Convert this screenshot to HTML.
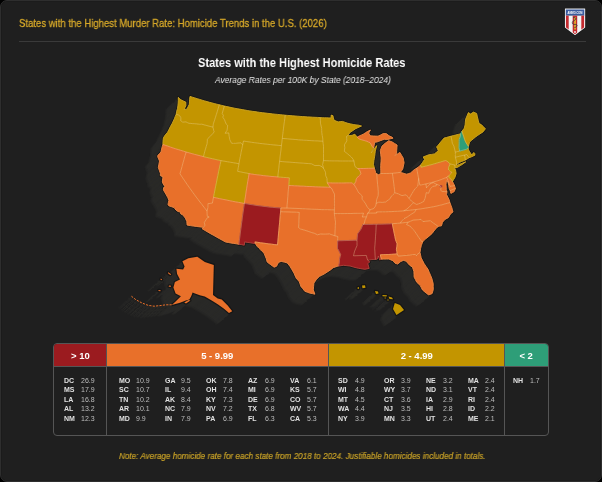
<!DOCTYPE html>
<html><head><meta charset="utf-8"><style>
html,body{margin:0;padding:0;background:#000;}
#c{position:relative;width:602px;height:482px;overflow:hidden;background:#000;font-family:"Liberation Sans",sans-serif;-webkit-font-smoothing:antialiased;}
.t,.cd,.vl,.hd{will-change:transform;}
#card{position:absolute;left:0;top:0;width:602px;height:482px;box-sizing:border-box;border-radius:7px;background:#1f1f1f;border:1.3px solid #2e2e2e;box-shadow:inset 0 0 0 0.6px #1a1a1a;}
.t{position:absolute;white-space:nowrap;transform-origin:0 0;}
#title{left:19.2px;top:16.7px;font-size:11.3px;color:#d6a829;transform:scaleX(0.845);-webkit-text-stroke:0.3px #d6a829;}
#rule{position:absolute;left:19px;top:40.5px;width:567px;height:1px;background:#3a3a3a;}
#h1{left:198px;top:55.3px;font-size:13.4px;font-weight:bold;color:#fff;transform:scaleX(0.825);}
#h2{left:215px;top:73.5px;font-size:9.6px;font-style:italic;color:#e6e6e6;transform:scaleX(0.88);}
#note{left:119px;top:450.5px;font-size:8.9px;font-style:italic;color:#c9a227;transform:scaleX(0.915);-webkit-text-stroke:0.2px #c9a227;}
svg{position:absolute;left:0;top:0;}
#tbl{position:absolute;left:53px;top:342.5px;width:493.5px;height:91.5px;border:1px solid #555;border-radius:4px;overflow:hidden;}
.hd{position:absolute;top:0;height:22px;border-bottom:1px solid #555;color:#fff;font-weight:bold;font-size:9.5px;text-align:center;line-height:24px;overflow:hidden;}
.dv{position:absolute;top:0;width:1px;height:100%;background:#555;}
.cd{position:absolute;font-size:7px;font-weight:bold;color:#e0e0e0;white-space:nowrap;}
.vl{position:absolute;font-size:7px;color:#bdbdbd;white-space:nowrap;}
</style></head><body><div id="c">
<div id="card"></div>
<div class="t" id="title">States with the Highest Murder Rate: Homicide Trends in the U.S. (2026)</div>
<div id="rule"></div>
<svg width="602" height="482" viewBox="0 0 602 482" style="position:absolute;left:0;top:0">
<defs><clipPath id="sh"><path d="M565.8,9.4 H584.3 V27.2 L575,34.3 L565.8,27.2 Z"/></clipPath></defs>
<path d="M564.4,8.0 H585.7 V27.7 L575,35.9 L564.4,27.7 Z" fill="#111"/>
<path d="M564.9,8.5 H585.2 V27.4 L575,35.3 L564.9,27.4 Z" fill="#f4f4f4"/>
<g clip-path="url(#sh)">
<rect x="565" y="9" width="20" height="6.2" fill="#3b5b9e"/>
<rect x="565" y="15.2" width="20" height="0.5" fill="#2a3f70"/>
<rect x="565.8" y="15.7" width="2.9" height="20" fill="#c42a2f"/>
<rect x="581.3" y="15.7" width="3" height="20" fill="#c42a2f"/>
<rect x="572.7" y="15.7" width="4.5" height="20" fill="#c42a2f"/>
</g>
<circle cx="575" cy="32" r="0.9" fill="#f4f4f4"/>
<rect x="574.2" y="17" width="1.7" height="12.5" fill="#e2b22a"/>
<path d="M573.2,17.6 c2.8,-0.6 3.6,1.6 1.2,2.8 c-3.2,1.4 -2.6,4.6 0.8,4 c2.6,-0.4 2.6,2.6 -0.8,3.2" stroke="#3a3a3a" stroke-width="0.85" fill="none"/>
<text x="575" y="13.6" font-size="3.3" font-weight="bold" fill="#fff" text-anchor="middle" font-family="Liberation Sans" textLength="15" lengthAdjust="spacingAndGlyphs">AMMO.COM</text>
</svg>
<div class="t" id="h1">States with the Highest Homicide Rates</div>
<div class="t" id="h2">Average Rates per 100K by State (2018–2024)</div>
<svg width="602" height="482" viewBox="0 0 602 482">
<defs><filter id="ls" filterUnits="userSpaceOnUse" x="100" y="80" width="420" height="260" color-interpolation-filters="sRGB"><feFlood flood-color="#222221" result="f16"/><feComposite in="f16" in2="SourceAlpha" operator="in" result="c16"/><feOffset in="c16" dx="-13.50" dy="12.00" result="o16"/><feFlood flood-color="#242423" result="f15"/><feComposite in="f15" in2="SourceAlpha" operator="in" result="c15"/><feOffset in="c15" dx="-12.66" dy="11.25" result="o15"/><feFlood flood-color="#262625" result="f14"/><feComposite in="f14" in2="SourceAlpha" operator="in" result="c14"/><feOffset in="c14" dx="-11.81" dy="10.50" result="o14"/><feFlood flood-color="#292927" result="f13"/><feComposite in="f13" in2="SourceAlpha" operator="in" result="c13"/><feOffset in="c13" dx="-10.97" dy="9.75" result="o13"/><feFlood flood-color="#292927" result="f12"/><feComposite in="f12" in2="SourceAlpha" operator="in" result="c12"/><feOffset in="c12" dx="-10.12" dy="9.00" result="o12"/><feFlood flood-color="#292927" result="f11"/><feComposite in="f11" in2="SourceAlpha" operator="in" result="c11"/><feOffset in="c11" dx="-9.28" dy="8.25" result="o11"/><feFlood flood-color="#292927" result="f10"/><feComposite in="f10" in2="SourceAlpha" operator="in" result="c10"/><feOffset in="c10" dx="-8.44" dy="7.50" result="o10"/><feFlood flood-color="#292927" result="f9"/><feComposite in="f9" in2="SourceAlpha" operator="in" result="c9"/><feOffset in="c9" dx="-7.59" dy="6.75" result="o9"/><feFlood flood-color="#292927" result="f8"/><feComposite in="f8" in2="SourceAlpha" operator="in" result="c8"/><feOffset in="c8" dx="-6.75" dy="6.00" result="o8"/><feFlood flood-color="#292927" result="f7"/><feComposite in="f7" in2="SourceAlpha" operator="in" result="c7"/><feOffset in="c7" dx="-5.91" dy="5.25" result="o7"/><feFlood flood-color="#292927" result="f6"/><feComposite in="f6" in2="SourceAlpha" operator="in" result="c6"/><feOffset in="c6" dx="-5.06" dy="4.50" result="o6"/><feFlood flood-color="#292927" result="f5"/><feComposite in="f5" in2="SourceAlpha" operator="in" result="c5"/><feOffset in="c5" dx="-4.22" dy="3.75" result="o5"/><feFlood flood-color="#292927" result="f4"/><feComposite in="f4" in2="SourceAlpha" operator="in" result="c4"/><feOffset in="c4" dx="-3.38" dy="3.00" result="o4"/><feFlood flood-color="#292927" result="f3"/><feComposite in="f3" in2="SourceAlpha" operator="in" result="c3"/><feOffset in="c3" dx="-2.53" dy="2.25" result="o3"/><feFlood flood-color="#292927" result="f2"/><feComposite in="f2" in2="SourceAlpha" operator="in" result="c2"/><feOffset in="c2" dx="-1.69" dy="1.50" result="o2"/><feFlood flood-color="#292927" result="f1"/><feComposite in="f1" in2="SourceAlpha" operator="in" result="c1"/><feOffset in="c1" dx="-0.84" dy="0.75" result="o1"/><feMerge><feMergeNode in="o16"/><feMergeNode in="o15"/><feMergeNode in="o14"/><feMergeNode in="o13"/><feMergeNode in="o12"/><feMergeNode in="o11"/><feMergeNode in="o10"/><feMergeNode in="o9"/><feMergeNode in="o8"/><feMergeNode in="o7"/><feMergeNode in="o6"/><feMergeNode in="o5"/><feMergeNode in="o4"/><feMergeNode in="o3"/><feMergeNode in="o2"/><feMergeNode in="o1"/></feMerge></filter></defs>
<g filter="url(#ls)" fill="#000"><path d="M176.2,114.2 176.6,111.5 177.5,108.5 177.9,105.7 178.2,103.0 178.3,100.2 178.3,97.4 179.6,98.6 180.9,99.8 183.4,101.0 185.8,102.1 185.9,105.6 185.0,107.5 184.1,109.5 186.9,109.2 188.1,106.7 189.3,104.3 189.5,101.9 189.6,99.5 190.0,96.4 192.4,97.2 194.8,97.9 197.2,98.7 199.7,99.4 202.1,100.2 204.6,100.9 207.0,101.6 209.5,102.3 211.9,102.9 214.4,103.6 216.8,104.2 219.3,104.8 218.3,108.0 217.4,111.2 216.4,114.3 215.4,117.5 214.4,120.7 213.3,123.9 213.0,127.1 210.8,126.6 208.5,126.0 206.3,125.4 204.0,124.8 201.8,124.2 199.9,124.3 198.2,124.1 196.5,123.9 194.4,123.7 192.4,123.6 190.7,123.4 189.0,123.3 187.4,122.6 185.9,121.9 182.8,122.2 180.7,120.7 180.9,117.9 180.3,116.4 178.5,115.0 176.2,114.2Z"/><path d="M162.9,144.5 163.0,141.2 163.4,137.8 165.4,134.7 167.6,132.2 169.0,129.4 170.4,126.6 172.3,123.2 173.3,121.0 174.3,118.9 175.2,116.5 176.2,114.2 178.5,115.0 180.3,116.4 180.9,117.9 180.7,120.7 182.8,122.2 185.9,121.9 187.4,122.6 189.0,123.3 190.7,123.4 192.4,123.6 194.4,123.7 196.5,123.9 198.2,124.1 199.9,124.3 201.8,124.2 204.0,124.8 206.3,125.4 208.5,126.0 210.8,126.6 213.0,127.1 213.7,130.5 214.2,131.8 211.9,134.8 209.5,136.7 207.4,139.4 207.2,143.3 206.2,146.6 205.2,150.0 204.3,153.3 203.4,156.6 200.5,155.9 197.6,155.1 194.7,154.4 191.8,153.6 189.0,152.8 186.2,152.0 183.5,151.2 180.9,150.4 178.3,149.6 175.7,148.8 173.1,148.0 170.6,147.1 168.0,146.2 165.5,145.4 162.9,144.5Z"/><path d="M187.1,225.1 186.8,221.5 185.3,218.1 182.7,214.8 180.8,214.0 180.4,212.1 178.0,211.5 175.9,210.0 174.1,207.6 171.5,206.7 168.8,205.8 168.0,204.4 168.4,202.4 168.9,200.4 167.9,197.8 166.1,194.6 164.7,192.2 163.4,189.9 163.6,187.6 165.0,186.5 163.7,184.9 162.3,182.1 162.7,178.4 163.0,176.9 160.3,175.6 160.4,173.3 159.3,170.4 158.3,167.4 158.9,164.2 159.5,161.0 157.7,156.8 157.9,155.3 159.5,153.6 161.0,151.9 161.6,149.1 162.3,146.3 162.9,144.5 165.5,145.4 168.0,146.2 170.6,147.1 173.1,148.0 175.7,148.8 178.3,149.6 180.9,150.4 183.5,151.2 186.2,152.0 185.0,155.6 184.0,159.3 183.0,162.9 182.0,166.6 181.0,170.2 180.0,173.8 182.3,177.3 184.6,180.7 186.9,184.1 189.3,187.5 191.7,190.9 194.2,194.3 196.7,197.7 199.2,201.0 201.8,204.4 204.4,207.7 207.0,211.0 207.1,213.7 207.3,216.3 209.2,217.0 207.2,217.8 205.8,220.1 204.3,222.5 205.0,225.6 203.2,227.3 200.0,226.9 196.8,226.5 193.5,226.1 190.3,225.6 187.1,225.1Z"/><path d="M186.2,152.0 189.0,152.8 191.8,153.6 194.7,154.4 197.6,155.1 200.5,155.9 203.4,156.6 206.3,157.3 209.2,158.0 212.2,158.7 215.1,159.3 218.1,160.0 221.0,160.6 220.2,164.3 219.4,167.9 218.6,171.6 217.9,175.3 217.1,179.0 216.4,182.7 215.6,186.4 214.9,190.0 214.2,193.7 213.5,197.3 212.9,200.2 212.4,203.1 210.1,203.4 207.9,203.7 207.9,207.5 207.0,211.0 204.4,207.7 201.8,204.4 199.2,201.0 196.7,197.7 194.2,194.3 191.7,190.9 189.3,187.5 186.9,184.1 184.6,180.7 182.3,177.3 180.0,173.8 181.0,170.2 182.0,166.6 183.0,162.9 184.0,159.3 185.0,155.6 186.2,152.0Z"/><path d="M219.3,104.8 218.3,108.0 217.4,111.2 216.4,114.3 215.4,117.5 214.4,120.7 213.3,123.9 213.0,127.1 213.7,130.5 214.2,131.8 211.9,134.8 209.5,136.7 207.4,139.4 207.2,143.3 206.2,146.6 205.2,150.0 204.3,153.3 203.4,156.6 206.3,157.3 209.2,158.0 212.2,158.7 215.1,159.3 218.1,160.0 221.0,160.6 224.0,161.1 227.1,161.7 230.1,162.2 233.1,162.7 236.0,163.2 239.0,163.8 239.6,160.0 240.4,156.2 241.1,152.4 241.9,148.6 242.7,144.8 241.1,142.8 238.4,143.0 235.8,143.3 233.7,143.3 231.6,143.3 229.8,139.7 229.2,136.3 228.7,132.9 226.9,133.1 225.1,133.3 227.1,130.2 227.4,127.8 227.7,125.4 226.2,124.1 224.5,119.8 222.8,117.1 223.4,115.6 222.2,113.4 223.3,109.7 224.3,106.0 221.8,105.4 219.3,104.8Z"/><path d="M224.3,106.0 226.9,106.6 229.4,107.1 232.0,107.7 234.5,108.2 237.1,108.7 239.6,109.1 242.2,109.6 244.7,110.0 247.3,110.5 249.8,110.9 252.3,111.3 254.9,111.6 257.4,112.0 259.9,112.4 262.5,112.7 265.0,113.0 267.5,113.3 270.0,113.6 272.6,113.9 275.1,114.2 277.6,114.4 280.1,114.7 282.7,114.9 285.2,115.2 284.8,118.5 284.4,121.7 283.9,125.0 283.5,128.4 283.1,131.7 282.7,135.0 282.3,138.4 281.9,142.0 281.4,145.6 278.7,145.4 276.0,145.1 273.3,144.9 270.6,144.6 267.9,144.3 265.2,144.0 262.5,143.7 259.8,143.4 257.1,143.0 254.4,142.7 251.7,142.3 249.0,141.9 246.3,141.5 243.5,141.0 242.7,144.8 241.1,142.8 238.4,143.0 235.8,143.3 233.7,143.3 231.6,143.3 229.8,139.7 229.2,136.3 228.7,132.9 226.9,133.1 225.1,133.3 227.1,130.2 227.4,127.8 227.7,125.4 226.2,124.1 224.5,119.8 222.8,117.1 223.4,115.6 222.2,113.4 223.3,109.7 224.3,106.0Z"/><path d="M242.7,144.8 243.5,141.0 246.3,141.5 249.0,141.9 251.7,142.3 254.4,142.7 257.1,143.0 259.8,143.4 262.5,143.7 265.2,144.0 267.9,144.3 270.6,144.6 273.3,144.9 276.0,145.1 278.7,145.4 281.4,145.6 281.0,149.5 280.5,153.5 280.0,157.4 279.6,161.3 279.1,165.3 278.7,169.2 278.2,173.1 277.8,177.0 274.9,176.7 272.0,176.5 269.1,176.2 266.2,175.9 263.4,175.6 260.5,175.2 257.6,174.9 254.8,174.5 251.9,174.1 249.1,173.6 246.2,173.0 243.4,172.5 240.5,171.9 237.6,171.3 238.3,167.5 239.0,163.8 239.6,160.0 240.4,156.2 241.1,152.4 241.9,148.6 242.7,144.8Z"/><path d="M221.0,160.6 224.0,161.1 227.1,161.7 230.1,162.2 233.1,162.7 236.0,163.2 239.0,163.8 238.3,167.5 237.6,171.3 240.5,171.9 243.4,172.5 246.2,173.0 249.1,173.6 248.5,177.4 247.8,181.1 247.2,184.9 246.6,188.6 246.0,192.4 245.5,196.1 244.9,199.8 244.4,203.5 241.3,202.9 238.3,202.3 235.2,201.8 232.2,201.2 229.1,200.6 226.0,199.9 222.9,199.3 219.7,198.7 216.6,198.0 213.5,197.3 214.2,193.7 214.9,190.0 215.6,186.4 216.4,182.7 217.1,179.0 217.9,175.3 218.6,171.6 219.4,167.9 220.2,164.3 221.0,160.6Z"/><path d="M249.1,173.6 251.9,174.1 254.8,174.5 257.6,174.9 260.5,175.2 263.4,175.6 266.2,175.9 269.1,176.2 272.0,176.5 274.9,176.7 277.8,177.0 280.7,177.2 283.6,177.4 286.5,177.6 289.4,177.8 289.1,181.6 288.8,185.5 288.4,189.3 288.1,193.0 287.8,196.8 287.5,200.6 287.2,204.3 286.9,208.1 283.9,208.0 280.9,208.0 278.0,207.8 275.1,207.6 272.3,207.3 269.5,207.1 266.7,206.7 263.9,206.4 261.1,206.0 258.3,205.7 255.5,205.3 252.7,204.8 250.0,204.4 247.2,203.9 244.4,203.5 244.9,199.8 245.5,196.1 246.0,192.4 246.6,188.6 247.2,184.9 247.8,181.1 248.5,177.4 249.1,173.6Z"/><path d="M213.5,197.3 216.6,198.0 219.7,198.7 222.9,199.3 226.0,199.9 229.1,200.6 232.2,201.2 235.2,201.8 238.3,202.3 241.3,202.9 244.4,203.5 243.9,206.9 243.4,210.3 242.9,213.7 242.4,217.1 242.0,220.5 241.5,223.9 241.1,227.3 240.6,230.7 240.2,234.1 239.8,237.5 239.3,240.9 238.9,244.3 236.2,243.8 233.6,243.4 230.9,243.0 228.3,242.5 225.6,242.0 222.6,240.4 219.7,238.8 216.8,237.2 213.9,235.5 210.9,233.9 208.0,232.2 205.1,230.5 202.2,228.8 203.2,227.3 205.0,225.6 204.3,222.5 205.8,220.1 207.2,217.8 209.2,217.0 207.3,216.3 207.1,213.7 207.0,211.0 207.9,207.5 207.9,203.7 210.1,203.4 212.4,203.1 212.9,200.2 213.5,197.3Z"/><path d="M244.4,203.5 247.2,203.9 250.0,204.4 252.7,204.8 255.5,205.3 258.3,205.7 261.1,206.0 263.9,206.4 266.7,206.7 269.5,207.1 272.3,207.3 275.1,207.6 278.0,207.8 280.9,208.0 280.6,211.7 280.2,215.4 279.9,219.1 279.6,222.8 279.2,226.5 278.9,230.2 278.5,233.9 278.2,237.6 277.9,241.2 277.5,244.9 274.6,244.6 271.8,244.2 268.9,243.9 266.1,243.5 263.3,243.1 260.5,242.8 257.7,242.3 254.9,241.9 255.4,243.6 252.8,243.2 250.1,242.8 247.4,242.4 244.7,241.9 244.3,245.2 241.6,244.7 238.9,244.3 239.3,240.9 239.8,237.5 240.2,234.1 240.6,230.7 241.1,227.3 241.5,223.9 242.0,220.5 242.4,217.1 242.9,213.7 243.4,210.3 243.9,206.9 244.4,203.5Z"/><path d="M285.2,115.2 287.7,115.4 290.1,115.6 292.6,115.8 295.1,116.0 297.6,116.2 300.1,116.4 302.6,116.6 305.1,116.7 307.6,116.9 310.1,117.0 312.6,117.2 315.1,117.3 317.6,117.4 320.2,117.6 320.4,120.6 320.5,123.7 321.1,126.0 321.7,128.3 321.7,130.6 321.8,132.9 322.2,135.4 322.7,138.0 322.9,141.2 320.1,141.1 317.4,140.9 314.6,140.8 311.9,140.7 309.2,140.5 306.5,140.3 303.8,140.2 301.1,140.0 298.4,139.8 295.7,139.5 293.0,139.3 290.3,139.1 287.6,138.8 285.0,138.6 282.3,138.4 282.7,135.0 283.1,131.7 283.5,128.4 283.9,125.0 284.4,121.7 284.8,118.5 285.2,115.2Z"/><path d="M282.3,138.4 281.9,142.0 281.4,145.6 281.0,149.5 280.5,153.5 280.0,157.4 279.6,161.3 282.2,161.6 284.8,161.8 287.4,162.0 290.0,162.2 292.7,162.4 295.3,162.6 298.0,162.8 300.7,163.0 303.4,163.2 306.0,163.4 308.7,163.6 311.5,163.8 313.2,164.7 314.9,165.6 317.0,165.5 319.1,165.4 322.0,166.7 323.5,168.4 323.0,166.4 322.6,164.5 323.5,160.6 323.5,157.1 323.5,153.5 323.5,149.9 323.5,146.3 323.2,143.7 322.9,141.2 320.1,141.1 317.4,140.9 314.6,140.8 311.9,140.7 309.2,140.5 306.5,140.3 303.8,140.2 301.1,140.0 298.4,139.8 295.7,139.5 293.0,139.3 290.3,139.1 287.6,138.8 285.0,138.6 282.3,138.4Z"/><path d="M277.8,177.0 278.2,173.1 278.7,169.2 279.1,165.3 279.6,161.3 282.2,161.6 284.8,161.8 287.4,162.0 290.0,162.2 292.7,162.4 295.3,162.6 298.0,162.8 300.7,163.0 303.4,163.2 306.0,163.4 308.7,163.6 311.5,163.8 313.2,164.7 314.9,165.6 317.0,165.5 319.1,165.4 322.0,166.7 323.5,168.4 324.0,169.1 325.5,172.2 325.7,175.6 326.9,178.2 327.1,180.6 327.3,182.9 328.7,185.1 330.2,187.3 327.2,187.2 324.2,187.1 321.2,187.0 318.2,186.9 315.2,186.8 312.2,186.6 309.3,186.5 306.3,186.4 303.4,186.2 300.4,186.1 297.5,185.9 294.6,185.8 291.7,185.6 288.8,185.5 289.1,181.6 289.4,177.8 286.5,177.6 283.6,177.4 280.7,177.2 277.8,177.0Z"/><path d="M288.8,185.5 291.7,185.6 294.6,185.8 297.5,185.9 300.4,186.1 303.4,186.2 306.3,186.4 309.3,186.5 312.2,186.6 315.2,186.8 318.2,186.9 321.2,187.0 324.2,187.1 327.2,187.2 330.2,187.3 332.0,188.8 332.7,190.7 334.5,194.1 334.5,197.2 334.4,200.3 334.4,203.5 334.4,206.6 334.4,209.8 331.1,209.8 327.9,209.7 324.6,209.7 321.4,209.6 318.1,209.4 314.9,209.3 311.7,209.2 308.5,209.0 305.3,208.8 302.2,208.7 299.1,208.5 296.0,208.4 293.0,208.3 290.0,208.2 286.9,208.1 287.2,204.3 287.5,200.6 287.8,196.8 288.1,193.0 288.4,189.3 288.8,185.5Z"/><path d="M286.9,208.1 290.0,208.2 293.0,208.3 296.0,208.4 299.1,208.5 302.2,208.7 305.3,208.8 308.5,209.0 311.7,209.2 314.9,209.3 318.1,209.4 321.4,209.6 324.6,209.7 327.9,209.7 331.1,209.8 334.4,209.8 334.3,213.6 334.7,216.4 335.1,219.3 335.5,222.1 335.3,225.5 335.2,228.9 335.0,232.4 334.8,235.8 332.1,234.9 329.4,233.9 327.4,234.0 325.4,234.1 323.0,234.1 320.7,234.0 317.4,234.8 314.7,233.4 311.5,232.5 308.2,231.3 306.0,230.6 303.7,229.9 300.5,229.0 298.6,227.6 298.8,223.8 298.9,220.0 299.1,216.1 299.3,212.4 296.2,212.2 293.1,212.1 290.0,212.0 286.9,211.9 283.7,211.8 280.6,211.7 280.9,208.0 283.9,208.0 286.9,208.1Z"/><path d="M280.6,211.7 280.2,215.4 279.9,219.1 279.6,222.8 279.2,226.5 278.9,230.2 278.5,233.9 278.2,237.6 277.9,241.2 277.5,244.9 274.6,244.6 271.8,244.2 268.9,243.9 266.1,243.5 263.3,243.1 260.5,242.8 257.7,242.3 254.9,241.9 255.4,243.6 257.1,246.3 258.8,248.1 260.6,249.8 262.3,251.6 264.1,253.3 265.1,255.9 266.2,258.5 267.2,262.1 270.3,264.4 272.2,265.8 274.1,267.2 276.5,266.3 277.5,264.4 278.5,262.4 281.2,261.4 284.2,262.1 287.2,262.9 290.0,266.4 292.0,269.8 294.0,273.2 295.2,276.0 296.5,278.8 299.1,281.3 300.0,283.8 300.9,286.4 302.9,288.8 304.8,291.3 307.3,292.2 309.7,293.1 312.3,293.6 314.9,294.2 314.1,292.0 313.3,289.9 313.6,286.5 313.9,283.1 316.4,279.4 319.3,276.5 321.7,275.3 324.2,274.0 327.3,272.0 330.5,269.9 333.2,267.7 335.3,267.0 337.4,266.3 338.5,266.1 339.3,263.1 339.5,259.2 340.1,256.9 340.7,254.6 339.4,251.9 338.1,249.3 337.5,248.5 337.6,244.6 337.7,240.8 337.7,238.6 337.8,236.5 334.8,235.8 332.1,234.9 329.4,233.9 327.4,234.0 325.4,234.1 323.0,234.1 320.7,234.0 317.4,234.8 314.7,233.4 311.5,232.5 308.2,231.3 306.0,230.6 303.7,229.9 300.5,229.0 298.6,227.6 298.8,223.8 298.9,220.0 299.1,216.1 299.3,212.4 296.2,212.2 293.1,212.1 290.0,212.0 286.9,211.9 283.7,211.8 280.6,211.7Z"/><path d="M320.2,117.6 322.3,117.7 324.5,117.8 326.7,117.8 328.9,117.9 331.1,118.0 331.2,115.1 332.9,115.6 333.4,117.9 334.0,120.2 336.1,121.1 338.2,121.9 340.3,121.6 342.5,121.4 345.2,122.4 347.9,123.3 350.6,123.9 353.3,124.5 356.0,124.9 358.7,125.2 361.5,126.0 359.5,126.9 357.6,127.8 355.6,128.7 353.0,130.5 350.3,132.2 347.7,135.7 346.6,136.4 346.7,138.6 346.8,140.9 345.6,142.9 344.4,144.8 344.8,147.7 344.3,151.3 347.3,153.6 349.4,155.4 351.5,157.1 353.7,160.2 353.9,160.9 351.2,161.0 348.4,161.0 345.6,161.0 342.9,161.0 340.1,161.0 337.3,160.9 334.6,160.9 331.8,160.9 329.1,160.8 326.3,160.7 323.5,160.6 323.5,157.1 323.5,153.5 323.5,149.9 323.5,146.3 323.2,143.7 322.9,141.2 322.7,138.0 322.2,135.4 321.8,132.9 321.7,130.6 321.7,128.3 321.1,126.0 320.5,123.7 320.4,120.6 320.2,117.6Z"/><path d="M323.5,160.6 326.3,160.7 329.1,160.8 331.8,160.9 334.6,160.9 337.3,160.9 340.1,161.0 342.9,161.0 345.6,161.0 348.4,161.0 351.2,161.0 353.9,160.9 354.4,163.8 355.0,166.7 357.8,168.6 359.9,170.4 361.0,173.8 358.5,176.1 356.3,178.8 355.8,181.4 354.1,184.6 352.1,182.9 349.4,182.9 346.6,182.9 343.9,183.0 341.1,183.0 338.4,183.0 335.6,183.0 332.8,183.0 330.1,182.9 327.3,182.9 327.1,180.6 326.9,178.2 325.7,175.6 325.5,172.2 324.0,169.1 323.5,168.4 323.0,166.4 322.6,164.5 323.5,160.6Z"/><path d="M327.3,182.9 328.7,185.1 330.2,187.3 332.0,188.8 332.7,190.7 334.5,194.1 334.5,197.2 334.4,200.3 334.4,203.5 334.4,206.6 334.4,209.8 334.3,213.6 337.6,213.6 340.9,213.6 344.2,213.6 347.4,213.5 350.7,213.5 353.9,213.4 357.2,213.3 360.4,213.3 363.5,213.2 362.3,217.0 364.4,216.9 366.5,216.9 367.6,213.2 368.8,212.4 370.0,209.8 367.3,207.2 365.5,203.6 363.8,201.4 362.1,199.2 362.2,195.9 360.4,194.2 358.6,192.6 357.4,190.4 356.2,188.1 354.1,184.6 352.1,182.9 349.4,182.9 346.6,182.9 343.9,183.0 341.1,183.0 338.4,183.0 335.6,183.0 332.8,183.0 330.1,182.9 327.3,182.9Z"/><path d="M334.3,213.6 337.6,213.6 340.9,213.6 344.2,213.6 347.4,213.5 350.7,213.5 353.9,213.4 357.2,213.3 360.4,213.3 363.5,213.2 362.3,217.0 364.4,216.9 366.5,216.9 365.1,219.9 364.2,223.7 362.9,224.5 362.0,226.8 361.0,229.1 359.3,231.5 357.6,233.9 357.3,237.1 357.0,240.2 353.8,240.3 350.6,240.4 347.4,240.5 344.1,240.6 340.9,240.7 337.7,240.8 337.7,238.6 337.8,236.5 334.8,235.8 335.0,232.4 335.2,228.9 335.3,225.5 335.5,222.1 335.1,219.3 334.7,216.4 334.3,213.6Z"/><path d="M337.7,240.8 340.9,240.7 344.1,240.6 347.4,240.5 350.6,240.4 353.8,240.3 357.0,240.2 357.0,242.9 357.0,245.6 355.8,248.4 354.6,251.2 354.0,253.5 353.5,255.8 356.7,255.7 359.9,255.6 363.1,255.5 366.3,255.4 367.1,258.4 367.8,260.3 369.8,261.8 367.8,263.8 368.5,266.1 369.2,268.4 367.0,268.9 364.8,269.3 362.8,269.0 360.8,268.7 358.7,268.3 356.7,267.9 353.3,267.0 350.0,266.0 346.7,265.7 343.5,265.3 341.0,265.7 338.5,266.1 339.3,263.1 339.5,259.2 340.1,256.9 340.7,254.6 339.4,251.9 338.1,249.3 337.5,248.5 337.6,244.6 337.7,240.8Z"/><path d="M347.7,135.7 349.9,135.5 352.1,135.3 354.8,134.2 357.2,137.1 358.9,138.9 361.8,139.8 364.6,140.6 366.9,141.3 368.6,142.1 370.3,142.8 372.0,146.2 373.6,148.1 372.4,150.5 371.2,152.9 372.9,150.7 374.5,148.5 376.7,145.6 376.0,148.4 375.3,151.1 375.0,153.7 374.7,156.2 374.3,158.4 373.9,160.5 373.5,164.4 374.4,168.2 371.6,168.3 368.9,168.3 366.1,168.4 363.3,168.5 360.6,168.5 357.8,168.6 355.0,166.7 354.4,163.8 353.9,160.9 353.7,160.2 351.5,157.1 349.4,155.4 347.3,153.6 344.3,151.3 344.8,147.7 344.4,144.8 345.6,142.9 346.8,140.9 346.7,138.6 346.6,136.4 347.7,135.7Z"/><path d="M357.8,168.6 360.6,168.5 363.3,168.5 366.1,168.4 368.9,168.3 371.6,168.3 374.4,168.2 375.1,170.4 375.7,172.7 376.6,173.7 377.0,177.4 377.3,181.0 377.6,184.6 378.0,188.2 378.3,191.8 378.2,195.5 377.4,197.6 376.7,199.7 376.2,203.4 375.6,206.0 373.6,208.6 371.8,209.2 370.0,209.8 367.3,207.2 365.5,203.6 363.8,201.4 362.1,199.2 362.2,195.9 360.4,194.2 358.6,192.6 357.4,190.4 356.2,188.1 354.1,184.6 355.8,181.4 356.3,178.8 358.5,176.1 361.0,173.8 359.9,170.4 357.8,168.6Z"/><path d="M376.6,173.7 378.6,174.7 380.8,173.5 383.7,173.5 386.6,173.5 389.5,173.4 392.4,173.3 392.8,176.6 393.3,179.9 393.7,183.1 394.1,186.4 394.5,189.6 394.8,192.8 393.2,194.4 391.6,196.0 389.5,199.3 388.3,200.0 385.5,202.0 382.4,202.4 380.6,202.3 378.7,202.2 376.2,203.4 376.7,199.7 377.4,197.6 378.2,195.5 378.3,191.8 378.0,188.2 377.6,184.6 377.3,181.0 377.0,177.4 376.6,173.7Z"/><path d="M392.4,173.3 395.1,173.0 397.7,172.7 400.3,172.4 403.0,173.1 404.9,173.7 406.7,174.2 408.7,173.6 410.6,172.9 412.4,171.3 414.2,169.7 416.7,168.2 417.3,171.6 417.9,174.9 418.6,178.3 418.4,180.4 418.2,182.5 417.8,186.0 416.4,187.4 415.0,188.8 413.1,191.7 411.1,195.0 409.1,198.5 407.6,196.7 406.2,194.8 404.1,195.2 402.0,195.6 400.0,194.7 398.1,193.7 396.5,193.3 394.8,192.8 394.5,189.6 394.1,186.4 393.7,183.1 393.3,179.9 392.8,176.6 392.4,173.3Z"/><path d="M380.8,173.5 380.8,170.9 380.7,168.2 380.7,165.5 381.0,161.8 381.2,158.0 380.7,154.3 380.3,150.6 381.2,148.2 382.1,145.9 383.7,144.5 385.4,143.1 387.1,141.9 388.7,140.7 390.3,141.3 391.9,141.8 394.5,143.4 397.1,145.0 396.9,147.8 396.7,150.6 396.6,153.4 394.8,155.7 397.3,154.1 399.9,152.4 401.5,155.2 403.2,158.0 403.6,160.3 404.1,162.7 403.4,166.0 402.7,169.3 400.3,172.4 397.7,172.7 395.1,173.0 392.4,173.3 389.5,173.4 386.6,173.5 383.7,173.5 380.8,173.5Z"/><path d="M357.2,137.1 359.8,135.7 361.7,134.9 363.6,134.0 365.4,132.8 367.3,131.6 368.8,130.8 370.4,130.0 368.7,133.1 370.3,135.8 372.0,135.9 373.6,136.0 375.8,136.1 378.0,136.2 380.7,134.9 383.3,133.5 384.9,133.6 386.5,133.7 389.0,135.8 391.9,137.1 393.1,138.2 390.4,138.8 387.7,139.4 386.1,139.4 384.4,139.3 382.3,140.0 380.1,140.8 378.3,141.5 376.5,142.1 374.7,142.2 374.2,145.2 373.6,148.1 372.0,146.2 370.3,142.8 368.6,142.1 366.9,141.3 364.6,140.6 361.8,139.8 358.9,138.9 357.2,137.1Z"/><path d="M376.2,203.4 378.7,202.2 380.6,202.3 382.4,202.4 385.5,202.0 388.3,200.0 389.5,199.3 391.6,196.0 393.2,194.4 394.8,192.8 396.5,193.3 398.1,193.7 400.0,194.7 402.0,195.6 404.1,195.2 406.2,194.8 407.6,196.7 409.1,198.5 411.3,201.0 413.5,202.7 411.7,204.7 410.0,206.1 407.1,209.0 405.4,209.9 403.7,210.8 400.7,211.1 397.6,211.3 394.6,211.4 391.6,211.6 388.6,211.7 385.6,211.8 382.6,211.8 379.6,211.9 376.6,211.9 376.7,213.0 373.7,213.1 370.7,213.1 367.6,213.2 368.8,212.4 370.0,209.8 371.8,209.2 373.6,208.6 375.6,206.0 376.2,203.4Z"/><path d="M367.6,213.2 370.7,213.1 373.7,213.1 376.7,213.0 376.6,211.9 379.6,211.9 382.6,211.8 385.6,211.8 388.6,211.7 391.6,211.6 394.6,211.4 397.6,211.3 400.7,211.1 403.7,210.8 406.8,210.5 409.9,210.2 413.0,209.8 416.1,209.5 415.0,211.8 412.9,213.2 410.8,214.5 407.7,216.7 405.9,217.7 404.0,218.6 401.6,221.1 400.3,223.1 397.6,223.3 395.0,223.5 392.3,223.7 389.6,223.9 386.9,224.0 384.2,224.1 381.5,224.2 378.9,224.2 376.2,224.3 373.6,224.3 370.9,224.4 368.3,224.4 365.6,224.4 362.9,224.5 364.2,223.7 365.1,219.9 366.5,216.9 367.6,213.2Z"/><path d="M362.9,224.5 365.6,224.4 368.3,224.4 370.9,224.4 373.6,224.3 376.2,224.3 376.2,225.0 376.0,228.9 375.8,232.7 375.5,236.5 375.3,240.4 375.0,244.3 374.7,248.1 374.9,251.9 375.1,255.7 375.4,259.4 373.2,259.5 371.1,259.6 367.8,260.3 367.1,258.4 366.3,255.4 363.1,255.5 359.9,255.6 356.7,255.7 353.5,255.8 354.0,253.5 354.6,251.2 355.8,248.4 357.0,245.6 357.0,242.9 357.0,240.2 357.3,237.1 357.6,233.9 359.3,231.5 361.0,229.1 362.0,226.8 362.9,224.5Z"/><path d="M376.2,224.3 378.9,224.2 381.5,224.2 384.2,224.1 386.9,224.0 389.6,223.9 392.3,223.7 392.9,226.9 393.6,230.1 394.2,233.3 394.9,236.5 395.5,239.7 396.3,241.8 397.1,243.8 396.9,246.2 396.4,249.3 396.8,251.6 397.2,253.9 394.4,254.1 391.6,254.3 388.8,254.5 385.9,254.6 383.1,254.7 380.3,254.8 380.8,257.0 381.3,259.2 379.7,260.0 379.0,258.0 378.3,256.0 377.3,259.1 375.4,259.4 375.1,255.7 374.9,251.9 374.7,248.1 375.0,244.3 375.3,240.4 375.5,236.5 375.8,232.7 376.0,228.9 376.2,225.0 376.2,224.3Z"/><path d="M400.3,223.1 402.9,222.8 405.5,222.5 408.1,222.2 406.6,224.6 409.9,226.0 411.7,228.0 413.5,229.9 414.9,231.7 416.2,233.5 417.5,235.5 418.8,237.5 420.2,239.4 421.5,241.4 422.8,241.6 421.4,245.3 420.6,248.5 420.0,252.4 416.9,254.7 416.4,255.8 415.3,254.4 412.4,254.7 409.6,255.1 406.7,255.4 403.9,255.6 401.1,255.9 398.2,256.1 397.2,253.9 396.8,251.6 396.4,249.3 396.9,246.2 397.1,243.8 396.3,241.8 395.5,239.7 394.9,236.5 394.2,233.3 393.6,230.1 392.9,226.9 392.3,223.7 395.0,223.5 397.6,223.3 400.3,223.1Z"/><path d="M420.0,252.4 416.9,254.7 416.4,255.8 415.3,254.4 412.4,254.7 409.6,255.1 406.7,255.4 403.9,255.6 401.1,255.9 398.2,256.1 397.2,253.9 394.4,254.1 391.6,254.3 388.8,254.5 385.9,254.6 383.1,254.7 380.3,254.8 380.8,257.0 381.3,259.2 383.8,259.1 386.4,259.1 388.9,259.0 390.9,259.9 392.9,260.7 395.0,263.2 397.7,264.1 400.8,261.5 403.4,260.4 406.0,261.1 407.8,263.2 409.6,265.2 412.5,267.2 413.2,269.4 413.9,271.6 414.0,274.4 414.1,277.1 415.4,279.6 416.7,282.2 420.3,285.6 421.4,287.8 422.5,290.0 426.4,293.3 428.7,294.9 432.1,293.6 433.3,289.5 433.2,286.6 433.2,283.6 432.5,281.0 431.8,278.3 430.5,275.2 429.2,272.2 427.9,269.1 426.0,266.4 424.2,263.7 422.7,260.8 421.2,257.9 420.6,255.1 420.0,252.4Z"/><path d="M408.1,222.2 410.6,221.2 413.1,220.1 415.8,219.9 418.5,219.7 421.1,219.4 421.9,220.4 422.9,221.6 425.4,221.3 427.8,221.0 430.2,220.7 432.8,222.6 435.5,224.5 438.1,226.4 436.5,228.2 434.7,229.9 432.2,233.4 428.8,236.4 425.5,239.0 422.8,241.6 421.5,241.4 420.2,239.4 418.8,237.5 417.5,235.5 416.2,233.5 414.9,231.7 413.5,229.9 411.7,228.0 409.9,226.0 406.6,224.6 408.1,222.2Z"/><path d="M449.9,202.5 447.3,203.3 444.6,204.0 442.0,204.8 439.3,205.4 436.5,206.1 433.8,206.7 430.9,207.2 428.0,207.7 425.1,208.2 422.1,208.7 419.1,209.1 416.1,209.5 415.0,211.8 412.9,213.2 410.8,214.5 407.7,216.7 405.9,217.7 404.0,218.6 401.6,221.1 400.3,223.1 402.9,222.8 405.5,222.5 408.1,222.2 410.6,221.2 413.1,220.1 415.8,219.9 418.5,219.7 421.1,219.4 421.9,220.4 422.9,221.6 425.4,221.3 427.8,221.0 430.2,220.7 432.8,222.6 435.5,224.5 438.1,226.4 439.8,226.1 441.5,225.8 442.5,222.2 443.9,220.7 445.3,219.2 446.9,218.4 448.4,217.6 450.5,213.9 453.0,211.9 452.4,209.9 451.9,207.9 450.9,205.2 449.9,202.5Z"/><path d="M403.7,210.8 405.4,209.9 407.1,209.0 410.0,206.1 411.7,204.7 413.5,202.7 416.7,204.5 418.6,203.8 420.5,203.1 422.1,202.3 423.7,201.5 425.1,198.2 425.7,195.4 426.3,192.6 428.5,193.3 430.3,189.0 432.8,186.4 434.5,186.1 436.2,185.8 436.5,184.3 438.2,184.8 440.3,186.1 441.0,187.1 440.7,190.4 442.3,191.5 444.7,191.6 447.0,191.8 446.5,194.6 447.8,197.1 449.1,199.7 449.9,202.5 447.3,203.3 444.6,204.0 442.0,204.8 439.3,205.4 436.5,206.1 433.8,206.7 430.9,207.2 428.0,207.7 425.1,208.2 422.1,208.7 419.1,209.1 416.1,209.5 413.0,209.8 409.9,210.2 406.8,210.5 403.7,210.8Z"/><path d="M409.1,198.5 411.1,195.0 413.1,191.7 415.0,188.8 416.4,187.4 417.8,186.0 418.2,182.5 418.4,180.4 418.6,178.3 419.2,181.7 419.8,185.2 421.8,184.8 423.8,184.4 425.9,183.9 426.2,185.9 426.5,187.9 428.4,185.9 430.2,183.8 431.8,183.2 433.3,182.6 436.5,184.3 436.2,185.8 434.5,186.1 432.8,186.4 430.3,189.0 428.5,193.3 426.3,192.6 425.7,195.4 425.1,198.2 423.7,201.5 422.1,202.3 420.5,203.1 418.6,203.8 416.7,204.5 413.5,202.7 411.3,201.0 409.1,198.5Z"/><path d="M425.9,183.9 428.5,183.3 431.2,182.7 433.8,181.9 436.5,181.1 439.1,180.3 441.6,179.4 444.2,178.4 446.8,177.4 447.9,180.3 449.0,183.3 450.0,186.4 452.3,186.0 454.5,185.6 455.4,188.5 452.7,189.5 450.1,190.6 449.2,188.5 448.7,185.6 448.2,182.8 446.4,180.5 446.0,184.7 446.2,187.1 446.3,189.6 447.0,191.8 444.7,191.6 442.3,191.5 440.7,190.4 441.0,187.1 440.3,186.1 438.2,184.8 436.5,184.3 433.3,182.6 431.8,183.2 430.2,183.8 428.4,185.9 426.5,187.9 426.2,185.9 425.9,183.9Z"/><path d="M450.1,190.6 452.7,189.5 455.4,188.5 454.2,191.6 452.6,192.5 450.9,193.4 450.1,190.6Z"/><path d="M446.8,177.4 447.6,176.2 448.8,176.0 450.5,178.5 452.4,181.3 453.7,183.8 454.5,185.6 452.3,186.0 450.0,186.4 449.0,183.3 447.9,180.3 446.8,177.4Z"/><path d="M416.7,168.2 418.7,166.7 420.6,165.2 421.0,167.2 423.7,166.6 426.5,165.9 429.2,165.2 432.0,164.5 434.7,163.7 437.4,162.9 440.1,162.1 442.8,161.3 445.4,160.5 447.1,161.1 450.1,163.9 448.6,167.4 448.6,170.0 450.5,171.7 451.9,172.3 450.2,174.4 448.8,176.0 447.6,176.2 446.8,177.4 444.2,178.4 441.6,179.4 439.1,180.3 436.5,181.1 433.8,181.9 431.2,182.7 428.5,183.3 425.9,183.9 423.8,184.4 421.8,184.8 419.8,185.2 419.2,181.7 418.6,178.3 417.9,174.9 417.3,171.6 416.7,168.2Z"/><path d="M450.1,163.9 452.6,164.5 455.0,165.1 454.9,167.3 454.0,169.3 455.4,169.4 455.8,171.5 456.1,173.6 454.9,177.4 453.7,179.4 452.5,181.5 451.8,179.6 448.9,177.9 448.8,176.0 450.2,174.4 451.9,172.3 450.5,171.7 448.6,170.0 448.6,167.4 450.1,163.9Z"/><path d="M451.0,136.2 448.7,136.8 446.3,137.5 444.0,138.1 442.4,140.0 440.7,142.0 439.1,144.0 437.9,145.4 436.6,146.9 437.5,148.8 438.3,150.7 436.4,152.3 434.4,153.9 431.6,154.4 428.8,154.8 426.9,155.5 425.1,156.2 423.2,156.9 424.5,159.4 422.6,162.3 420.6,165.2 421.0,167.2 423.7,166.6 426.5,165.9 429.2,165.2 432.0,164.5 434.7,163.7 437.4,162.9 440.1,162.1 442.8,161.3 445.4,160.5 447.1,161.1 450.1,163.9 452.6,164.5 455.0,165.1 454.9,167.3 455.1,168.0 457.8,167.2 460.3,165.6 462.8,164.1 464.2,163.0 465.7,161.9 463.8,162.6 462.0,163.4 459.7,164.3 457.3,165.2 456.3,164.7 456.6,162.4 456.0,159.8 455.3,157.3 455.3,154.7 455.3,152.1 454.6,149.1 453.9,146.1 452.4,143.5 452.0,141.1 451.5,138.7 451.0,136.2Z"/><path d="M455.3,157.3 457.6,156.7 459.9,156.1 462.2,155.6 464.5,155.1 465.0,157.5 465.4,160.0 463.1,160.9 461.3,161.6 459.5,162.4 457.9,163.5 456.3,164.7 456.6,162.4 456.0,159.8 455.3,157.3Z"/><path d="M464.5,155.1 466.7,154.5 467.9,156.1 469.1,157.7 467.2,158.9 465.4,160.0 465.0,157.5 464.5,155.1Z"/><path d="M459.7,151.1 457.5,151.6 455.3,152.1 455.3,154.7 455.3,157.3 457.6,156.7 459.9,156.1 462.2,155.6 464.5,155.1 466.7,154.5 467.9,156.1 469.1,157.7 471.5,156.8 473.2,156.0 474.9,155.2 474.7,153.4 473.8,152.5 472.9,153.5 471.6,154.9 469.6,151.7 468.5,149.8 468.2,147.9 466.1,149.4 463.9,149.9 461.8,150.5 459.7,151.1Z"/><path d="M451.0,136.2 453.4,135.6 455.7,135.0 458.1,134.4 460.5,133.8 460.5,136.1 459.2,139.5 459.2,141.8 459.2,144.0 459.1,147.8 459.7,151.1 457.5,151.6 455.3,152.1 454.6,149.1 453.9,146.1 452.4,143.5 452.0,141.1 451.5,138.7 451.0,136.2Z"/><path d="M460.5,133.8 462.0,131.2 462.9,134.0 463.8,136.8 464.6,139.3 465.5,141.7 466.9,144.0 468.4,146.3 468.2,147.9 466.1,149.4 463.9,149.9 461.8,150.5 459.7,151.1 459.1,147.8 459.2,144.0 459.2,141.8 459.2,139.5 460.5,136.1 460.5,133.8Z"/><path d="M468.4,146.3 469.0,144.2 469.5,142.1 471.8,140.1 473.7,138.5 475.6,136.9 477.3,135.7 479.0,134.5 481.0,133.2 483.0,131.9 484.2,130.4 485.4,128.8 483.4,126.7 481.3,124.6 479.1,123.6 478.2,120.2 477.4,116.8 476.6,113.4 475.0,112.8 473.4,112.1 472.0,113.1 470.5,114.0 468.4,112.6 467.0,115.9 465.6,119.3 465.3,122.1 465.1,124.9 464.2,128.3 462.0,131.2 462.9,134.0 463.8,136.8 464.6,139.3 465.5,141.7 466.9,144.0 468.4,146.3Z"/><path d="M440.2,185.5 h1.6 v1.6 h-1.6 Z"/><path d="M182.4,261.2 L188.4,258.2 L197.3,256.7 L204.8,262 L213.8,265 L213.0,294.9 L217.7,298.4 L221.7,299.4 L227.7,305.4 L232.2,311.2 L229,313 L223.7,308.4 L217.7,304.3 L211.7,300.4 L204.8,296.6 L199.8,295.3 L194.3,293.2 L192.6,292.4 L191.3,296 L189.4,299.4 L185.8,300.6 L180,302.8 L171.8,305 L175.6,301.6 L180.9,296.3 L175.6,293.4 L173.4,287.4 L174.9,282.1 L180.0,279.5 L177.1,273.9 L176.4,268.7 L183.1,269.4 L184.6,266.4 Z M168.2,272.2 L171.2,274.2 L170.2,275 L167.8,273 Z M169,285.4 L171,285.8 L170.6,287 L168.6,286.6 Z M160.8,278.5 L162,279.2 L161.6,280.2 L160.4,279.6 Z M158.6,290 L160.6,290.3 L160.4,291.2 L158.4,290.9 Z M184.2,302.6 L188.6,300 L190.4,300.6 L186,303.4 Z"/><path d="M362,285.5 L365,285.3 L365.5,287.8 L362.5,288.2 Z M357.5,287.5 L359,287 L358.8,289 L357.6,288.8 Z M375,291 L378,291.5 L378.5,293.5 L376,294 Z M382.5,295 L387,295.3 L386.5,296.5 L382.5,296.2 Z M388.5,296.5 L392,297.5 L393,299.3 L389.5,299 Z M384.6,297.4 L385.8,297.4 L385.8,298.6 L384.6,298.6 Z M387.4,299.6 L388.6,299.6 L388.6,300.6 L387.4,300.6 Z M394.8,303 L400,305 L404,310 L396.5,315 L393,309 Z"/><path d="M171.8,304.8 L166,304.8 L160,305.6 L154,306.2 L148,305.3 L142,303 L136,299.8 L130.5,295.5" stroke="#000" stroke-width="1.0" fill="none" stroke-dasharray="2.2 1.2"/></g>
<g fill="#141414" stroke="#141414" stroke-width="2.4" stroke-linejoin="round" opacity="0.85"><path d="M176.2,114.2 176.6,111.5 177.5,108.5 177.9,105.7 178.2,103.0 178.3,100.2 178.3,97.4 179.6,98.6 180.9,99.8 183.4,101.0 185.8,102.1 185.9,105.6 185.0,107.5 184.1,109.5 186.9,109.2 188.1,106.7 189.3,104.3 189.5,101.9 189.6,99.5 190.0,96.4 192.4,97.2 194.8,97.9 197.2,98.7 199.7,99.4 202.1,100.2 204.6,100.9 207.0,101.6 209.5,102.3 211.9,102.9 214.4,103.6 216.8,104.2 219.3,104.8 218.3,108.0 217.4,111.2 216.4,114.3 215.4,117.5 214.4,120.7 213.3,123.9 213.0,127.1 210.8,126.6 208.5,126.0 206.3,125.4 204.0,124.8 201.8,124.2 199.9,124.3 198.2,124.1 196.5,123.9 194.4,123.7 192.4,123.6 190.7,123.4 189.0,123.3 187.4,122.6 185.9,121.9 182.8,122.2 180.7,120.7 180.9,117.9 180.3,116.4 178.5,115.0 176.2,114.2Z"/><path d="M162.9,144.5 163.0,141.2 163.4,137.8 165.4,134.7 167.6,132.2 169.0,129.4 170.4,126.6 172.3,123.2 173.3,121.0 174.3,118.9 175.2,116.5 176.2,114.2 178.5,115.0 180.3,116.4 180.9,117.9 180.7,120.7 182.8,122.2 185.9,121.9 187.4,122.6 189.0,123.3 190.7,123.4 192.4,123.6 194.4,123.7 196.5,123.9 198.2,124.1 199.9,124.3 201.8,124.2 204.0,124.8 206.3,125.4 208.5,126.0 210.8,126.6 213.0,127.1 213.7,130.5 214.2,131.8 211.9,134.8 209.5,136.7 207.4,139.4 207.2,143.3 206.2,146.6 205.2,150.0 204.3,153.3 203.4,156.6 200.5,155.9 197.6,155.1 194.7,154.4 191.8,153.6 189.0,152.8 186.2,152.0 183.5,151.2 180.9,150.4 178.3,149.6 175.7,148.8 173.1,148.0 170.6,147.1 168.0,146.2 165.5,145.4 162.9,144.5Z"/><path d="M187.1,225.1 186.8,221.5 185.3,218.1 182.7,214.8 180.8,214.0 180.4,212.1 178.0,211.5 175.9,210.0 174.1,207.6 171.5,206.7 168.8,205.8 168.0,204.4 168.4,202.4 168.9,200.4 167.9,197.8 166.1,194.6 164.7,192.2 163.4,189.9 163.6,187.6 165.0,186.5 163.7,184.9 162.3,182.1 162.7,178.4 163.0,176.9 160.3,175.6 160.4,173.3 159.3,170.4 158.3,167.4 158.9,164.2 159.5,161.0 157.7,156.8 157.9,155.3 159.5,153.6 161.0,151.9 161.6,149.1 162.3,146.3 162.9,144.5 165.5,145.4 168.0,146.2 170.6,147.1 173.1,148.0 175.7,148.8 178.3,149.6 180.9,150.4 183.5,151.2 186.2,152.0 185.0,155.6 184.0,159.3 183.0,162.9 182.0,166.6 181.0,170.2 180.0,173.8 182.3,177.3 184.6,180.7 186.9,184.1 189.3,187.5 191.7,190.9 194.2,194.3 196.7,197.7 199.2,201.0 201.8,204.4 204.4,207.7 207.0,211.0 207.1,213.7 207.3,216.3 209.2,217.0 207.2,217.8 205.8,220.1 204.3,222.5 205.0,225.6 203.2,227.3 200.0,226.9 196.8,226.5 193.5,226.1 190.3,225.6 187.1,225.1Z"/><path d="M186.2,152.0 189.0,152.8 191.8,153.6 194.7,154.4 197.6,155.1 200.5,155.9 203.4,156.6 206.3,157.3 209.2,158.0 212.2,158.7 215.1,159.3 218.1,160.0 221.0,160.6 220.2,164.3 219.4,167.9 218.6,171.6 217.9,175.3 217.1,179.0 216.4,182.7 215.6,186.4 214.9,190.0 214.2,193.7 213.5,197.3 212.9,200.2 212.4,203.1 210.1,203.4 207.9,203.7 207.9,207.5 207.0,211.0 204.4,207.7 201.8,204.4 199.2,201.0 196.7,197.7 194.2,194.3 191.7,190.9 189.3,187.5 186.9,184.1 184.6,180.7 182.3,177.3 180.0,173.8 181.0,170.2 182.0,166.6 183.0,162.9 184.0,159.3 185.0,155.6 186.2,152.0Z"/><path d="M219.3,104.8 218.3,108.0 217.4,111.2 216.4,114.3 215.4,117.5 214.4,120.7 213.3,123.9 213.0,127.1 213.7,130.5 214.2,131.8 211.9,134.8 209.5,136.7 207.4,139.4 207.2,143.3 206.2,146.6 205.2,150.0 204.3,153.3 203.4,156.6 206.3,157.3 209.2,158.0 212.2,158.7 215.1,159.3 218.1,160.0 221.0,160.6 224.0,161.1 227.1,161.7 230.1,162.2 233.1,162.7 236.0,163.2 239.0,163.8 239.6,160.0 240.4,156.2 241.1,152.4 241.9,148.6 242.7,144.8 241.1,142.8 238.4,143.0 235.8,143.3 233.7,143.3 231.6,143.3 229.8,139.7 229.2,136.3 228.7,132.9 226.9,133.1 225.1,133.3 227.1,130.2 227.4,127.8 227.7,125.4 226.2,124.1 224.5,119.8 222.8,117.1 223.4,115.6 222.2,113.4 223.3,109.7 224.3,106.0 221.8,105.4 219.3,104.8Z"/><path d="M224.3,106.0 226.9,106.6 229.4,107.1 232.0,107.7 234.5,108.2 237.1,108.7 239.6,109.1 242.2,109.6 244.7,110.0 247.3,110.5 249.8,110.9 252.3,111.3 254.9,111.6 257.4,112.0 259.9,112.4 262.5,112.7 265.0,113.0 267.5,113.3 270.0,113.6 272.6,113.9 275.1,114.2 277.6,114.4 280.1,114.7 282.7,114.9 285.2,115.2 284.8,118.5 284.4,121.7 283.9,125.0 283.5,128.4 283.1,131.7 282.7,135.0 282.3,138.4 281.9,142.0 281.4,145.6 278.7,145.4 276.0,145.1 273.3,144.9 270.6,144.6 267.9,144.3 265.2,144.0 262.5,143.7 259.8,143.4 257.1,143.0 254.4,142.7 251.7,142.3 249.0,141.9 246.3,141.5 243.5,141.0 242.7,144.8 241.1,142.8 238.4,143.0 235.8,143.3 233.7,143.3 231.6,143.3 229.8,139.7 229.2,136.3 228.7,132.9 226.9,133.1 225.1,133.3 227.1,130.2 227.4,127.8 227.7,125.4 226.2,124.1 224.5,119.8 222.8,117.1 223.4,115.6 222.2,113.4 223.3,109.7 224.3,106.0Z"/><path d="M242.7,144.8 243.5,141.0 246.3,141.5 249.0,141.9 251.7,142.3 254.4,142.7 257.1,143.0 259.8,143.4 262.5,143.7 265.2,144.0 267.9,144.3 270.6,144.6 273.3,144.9 276.0,145.1 278.7,145.4 281.4,145.6 281.0,149.5 280.5,153.5 280.0,157.4 279.6,161.3 279.1,165.3 278.7,169.2 278.2,173.1 277.8,177.0 274.9,176.7 272.0,176.5 269.1,176.2 266.2,175.9 263.4,175.6 260.5,175.2 257.6,174.9 254.8,174.5 251.9,174.1 249.1,173.6 246.2,173.0 243.4,172.5 240.5,171.9 237.6,171.3 238.3,167.5 239.0,163.8 239.6,160.0 240.4,156.2 241.1,152.4 241.9,148.6 242.7,144.8Z"/><path d="M221.0,160.6 224.0,161.1 227.1,161.7 230.1,162.2 233.1,162.7 236.0,163.2 239.0,163.8 238.3,167.5 237.6,171.3 240.5,171.9 243.4,172.5 246.2,173.0 249.1,173.6 248.5,177.4 247.8,181.1 247.2,184.9 246.6,188.6 246.0,192.4 245.5,196.1 244.9,199.8 244.4,203.5 241.3,202.9 238.3,202.3 235.2,201.8 232.2,201.2 229.1,200.6 226.0,199.9 222.9,199.3 219.7,198.7 216.6,198.0 213.5,197.3 214.2,193.7 214.9,190.0 215.6,186.4 216.4,182.7 217.1,179.0 217.9,175.3 218.6,171.6 219.4,167.9 220.2,164.3 221.0,160.6Z"/><path d="M249.1,173.6 251.9,174.1 254.8,174.5 257.6,174.9 260.5,175.2 263.4,175.6 266.2,175.9 269.1,176.2 272.0,176.5 274.9,176.7 277.8,177.0 280.7,177.2 283.6,177.4 286.5,177.6 289.4,177.8 289.1,181.6 288.8,185.5 288.4,189.3 288.1,193.0 287.8,196.8 287.5,200.6 287.2,204.3 286.9,208.1 283.9,208.0 280.9,208.0 278.0,207.8 275.1,207.6 272.3,207.3 269.5,207.1 266.7,206.7 263.9,206.4 261.1,206.0 258.3,205.7 255.5,205.3 252.7,204.8 250.0,204.4 247.2,203.9 244.4,203.5 244.9,199.8 245.5,196.1 246.0,192.4 246.6,188.6 247.2,184.9 247.8,181.1 248.5,177.4 249.1,173.6Z"/><path d="M213.5,197.3 216.6,198.0 219.7,198.7 222.9,199.3 226.0,199.9 229.1,200.6 232.2,201.2 235.2,201.8 238.3,202.3 241.3,202.9 244.4,203.5 243.9,206.9 243.4,210.3 242.9,213.7 242.4,217.1 242.0,220.5 241.5,223.9 241.1,227.3 240.6,230.7 240.2,234.1 239.8,237.5 239.3,240.9 238.9,244.3 236.2,243.8 233.6,243.4 230.9,243.0 228.3,242.5 225.6,242.0 222.6,240.4 219.7,238.8 216.8,237.2 213.9,235.5 210.9,233.9 208.0,232.2 205.1,230.5 202.2,228.8 203.2,227.3 205.0,225.6 204.3,222.5 205.8,220.1 207.2,217.8 209.2,217.0 207.3,216.3 207.1,213.7 207.0,211.0 207.9,207.5 207.9,203.7 210.1,203.4 212.4,203.1 212.9,200.2 213.5,197.3Z"/><path d="M244.4,203.5 247.2,203.9 250.0,204.4 252.7,204.8 255.5,205.3 258.3,205.7 261.1,206.0 263.9,206.4 266.7,206.7 269.5,207.1 272.3,207.3 275.1,207.6 278.0,207.8 280.9,208.0 280.6,211.7 280.2,215.4 279.9,219.1 279.6,222.8 279.2,226.5 278.9,230.2 278.5,233.9 278.2,237.6 277.9,241.2 277.5,244.9 274.6,244.6 271.8,244.2 268.9,243.9 266.1,243.5 263.3,243.1 260.5,242.8 257.7,242.3 254.9,241.9 255.4,243.6 252.8,243.2 250.1,242.8 247.4,242.4 244.7,241.9 244.3,245.2 241.6,244.7 238.9,244.3 239.3,240.9 239.8,237.5 240.2,234.1 240.6,230.7 241.1,227.3 241.5,223.9 242.0,220.5 242.4,217.1 242.9,213.7 243.4,210.3 243.9,206.9 244.4,203.5Z"/><path d="M285.2,115.2 287.7,115.4 290.1,115.6 292.6,115.8 295.1,116.0 297.6,116.2 300.1,116.4 302.6,116.6 305.1,116.7 307.6,116.9 310.1,117.0 312.6,117.2 315.1,117.3 317.6,117.4 320.2,117.6 320.4,120.6 320.5,123.7 321.1,126.0 321.7,128.3 321.7,130.6 321.8,132.9 322.2,135.4 322.7,138.0 322.9,141.2 320.1,141.1 317.4,140.9 314.6,140.8 311.9,140.7 309.2,140.5 306.5,140.3 303.8,140.2 301.1,140.0 298.4,139.8 295.7,139.5 293.0,139.3 290.3,139.1 287.6,138.8 285.0,138.6 282.3,138.4 282.7,135.0 283.1,131.7 283.5,128.4 283.9,125.0 284.4,121.7 284.8,118.5 285.2,115.2Z"/><path d="M282.3,138.4 281.9,142.0 281.4,145.6 281.0,149.5 280.5,153.5 280.0,157.4 279.6,161.3 282.2,161.6 284.8,161.8 287.4,162.0 290.0,162.2 292.7,162.4 295.3,162.6 298.0,162.8 300.7,163.0 303.4,163.2 306.0,163.4 308.7,163.6 311.5,163.8 313.2,164.7 314.9,165.6 317.0,165.5 319.1,165.4 322.0,166.7 323.5,168.4 323.0,166.4 322.6,164.5 323.5,160.6 323.5,157.1 323.5,153.5 323.5,149.9 323.5,146.3 323.2,143.7 322.9,141.2 320.1,141.1 317.4,140.9 314.6,140.8 311.9,140.7 309.2,140.5 306.5,140.3 303.8,140.2 301.1,140.0 298.4,139.8 295.7,139.5 293.0,139.3 290.3,139.1 287.6,138.8 285.0,138.6 282.3,138.4Z"/><path d="M277.8,177.0 278.2,173.1 278.7,169.2 279.1,165.3 279.6,161.3 282.2,161.6 284.8,161.8 287.4,162.0 290.0,162.2 292.7,162.4 295.3,162.6 298.0,162.8 300.7,163.0 303.4,163.2 306.0,163.4 308.7,163.6 311.5,163.8 313.2,164.7 314.9,165.6 317.0,165.5 319.1,165.4 322.0,166.7 323.5,168.4 324.0,169.1 325.5,172.2 325.7,175.6 326.9,178.2 327.1,180.6 327.3,182.9 328.7,185.1 330.2,187.3 327.2,187.2 324.2,187.1 321.2,187.0 318.2,186.9 315.2,186.8 312.2,186.6 309.3,186.5 306.3,186.4 303.4,186.2 300.4,186.1 297.5,185.9 294.6,185.8 291.7,185.6 288.8,185.5 289.1,181.6 289.4,177.8 286.5,177.6 283.6,177.4 280.7,177.2 277.8,177.0Z"/><path d="M288.8,185.5 291.7,185.6 294.6,185.8 297.5,185.9 300.4,186.1 303.4,186.2 306.3,186.4 309.3,186.5 312.2,186.6 315.2,186.8 318.2,186.9 321.2,187.0 324.2,187.1 327.2,187.2 330.2,187.3 332.0,188.8 332.7,190.7 334.5,194.1 334.5,197.2 334.4,200.3 334.4,203.5 334.4,206.6 334.4,209.8 331.1,209.8 327.9,209.7 324.6,209.7 321.4,209.6 318.1,209.4 314.9,209.3 311.7,209.2 308.5,209.0 305.3,208.8 302.2,208.7 299.1,208.5 296.0,208.4 293.0,208.3 290.0,208.2 286.9,208.1 287.2,204.3 287.5,200.6 287.8,196.8 288.1,193.0 288.4,189.3 288.8,185.5Z"/><path d="M286.9,208.1 290.0,208.2 293.0,208.3 296.0,208.4 299.1,208.5 302.2,208.7 305.3,208.8 308.5,209.0 311.7,209.2 314.9,209.3 318.1,209.4 321.4,209.6 324.6,209.7 327.9,209.7 331.1,209.8 334.4,209.8 334.3,213.6 334.7,216.4 335.1,219.3 335.5,222.1 335.3,225.5 335.2,228.9 335.0,232.4 334.8,235.8 332.1,234.9 329.4,233.9 327.4,234.0 325.4,234.1 323.0,234.1 320.7,234.0 317.4,234.8 314.7,233.4 311.5,232.5 308.2,231.3 306.0,230.6 303.7,229.9 300.5,229.0 298.6,227.6 298.8,223.8 298.9,220.0 299.1,216.1 299.3,212.4 296.2,212.2 293.1,212.1 290.0,212.0 286.9,211.9 283.7,211.8 280.6,211.7 280.9,208.0 283.9,208.0 286.9,208.1Z"/><path d="M280.6,211.7 280.2,215.4 279.9,219.1 279.6,222.8 279.2,226.5 278.9,230.2 278.5,233.9 278.2,237.6 277.9,241.2 277.5,244.9 274.6,244.6 271.8,244.2 268.9,243.9 266.1,243.5 263.3,243.1 260.5,242.8 257.7,242.3 254.9,241.9 255.4,243.6 257.1,246.3 258.8,248.1 260.6,249.8 262.3,251.6 264.1,253.3 265.1,255.9 266.2,258.5 267.2,262.1 270.3,264.4 272.2,265.8 274.1,267.2 276.5,266.3 277.5,264.4 278.5,262.4 281.2,261.4 284.2,262.1 287.2,262.9 290.0,266.4 292.0,269.8 294.0,273.2 295.2,276.0 296.5,278.8 299.1,281.3 300.0,283.8 300.9,286.4 302.9,288.8 304.8,291.3 307.3,292.2 309.7,293.1 312.3,293.6 314.9,294.2 314.1,292.0 313.3,289.9 313.6,286.5 313.9,283.1 316.4,279.4 319.3,276.5 321.7,275.3 324.2,274.0 327.3,272.0 330.5,269.9 333.2,267.7 335.3,267.0 337.4,266.3 338.5,266.1 339.3,263.1 339.5,259.2 340.1,256.9 340.7,254.6 339.4,251.9 338.1,249.3 337.5,248.5 337.6,244.6 337.7,240.8 337.7,238.6 337.8,236.5 334.8,235.8 332.1,234.9 329.4,233.9 327.4,234.0 325.4,234.1 323.0,234.1 320.7,234.0 317.4,234.8 314.7,233.4 311.5,232.5 308.2,231.3 306.0,230.6 303.7,229.9 300.5,229.0 298.6,227.6 298.8,223.8 298.9,220.0 299.1,216.1 299.3,212.4 296.2,212.2 293.1,212.1 290.0,212.0 286.9,211.9 283.7,211.8 280.6,211.7Z"/><path d="M320.2,117.6 322.3,117.7 324.5,117.8 326.7,117.8 328.9,117.9 331.1,118.0 331.2,115.1 332.9,115.6 333.4,117.9 334.0,120.2 336.1,121.1 338.2,121.9 340.3,121.6 342.5,121.4 345.2,122.4 347.9,123.3 350.6,123.9 353.3,124.5 356.0,124.9 358.7,125.2 361.5,126.0 359.5,126.9 357.6,127.8 355.6,128.7 353.0,130.5 350.3,132.2 347.7,135.7 346.6,136.4 346.7,138.6 346.8,140.9 345.6,142.9 344.4,144.8 344.8,147.7 344.3,151.3 347.3,153.6 349.4,155.4 351.5,157.1 353.7,160.2 353.9,160.9 351.2,161.0 348.4,161.0 345.6,161.0 342.9,161.0 340.1,161.0 337.3,160.9 334.6,160.9 331.8,160.9 329.1,160.8 326.3,160.7 323.5,160.6 323.5,157.1 323.5,153.5 323.5,149.9 323.5,146.3 323.2,143.7 322.9,141.2 322.7,138.0 322.2,135.4 321.8,132.9 321.7,130.6 321.7,128.3 321.1,126.0 320.5,123.7 320.4,120.6 320.2,117.6Z"/><path d="M323.5,160.6 326.3,160.7 329.1,160.8 331.8,160.9 334.6,160.9 337.3,160.9 340.1,161.0 342.9,161.0 345.6,161.0 348.4,161.0 351.2,161.0 353.9,160.9 354.4,163.8 355.0,166.7 357.8,168.6 359.9,170.4 361.0,173.8 358.5,176.1 356.3,178.8 355.8,181.4 354.1,184.6 352.1,182.9 349.4,182.9 346.6,182.9 343.9,183.0 341.1,183.0 338.4,183.0 335.6,183.0 332.8,183.0 330.1,182.9 327.3,182.9 327.1,180.6 326.9,178.2 325.7,175.6 325.5,172.2 324.0,169.1 323.5,168.4 323.0,166.4 322.6,164.5 323.5,160.6Z"/><path d="M327.3,182.9 328.7,185.1 330.2,187.3 332.0,188.8 332.7,190.7 334.5,194.1 334.5,197.2 334.4,200.3 334.4,203.5 334.4,206.6 334.4,209.8 334.3,213.6 337.6,213.6 340.9,213.6 344.2,213.6 347.4,213.5 350.7,213.5 353.9,213.4 357.2,213.3 360.4,213.3 363.5,213.2 362.3,217.0 364.4,216.9 366.5,216.9 367.6,213.2 368.8,212.4 370.0,209.8 367.3,207.2 365.5,203.6 363.8,201.4 362.1,199.2 362.2,195.9 360.4,194.2 358.6,192.6 357.4,190.4 356.2,188.1 354.1,184.6 352.1,182.9 349.4,182.9 346.6,182.9 343.9,183.0 341.1,183.0 338.4,183.0 335.6,183.0 332.8,183.0 330.1,182.9 327.3,182.9Z"/><path d="M334.3,213.6 337.6,213.6 340.9,213.6 344.2,213.6 347.4,213.5 350.7,213.5 353.9,213.4 357.2,213.3 360.4,213.3 363.5,213.2 362.3,217.0 364.4,216.9 366.5,216.9 365.1,219.9 364.2,223.7 362.9,224.5 362.0,226.8 361.0,229.1 359.3,231.5 357.6,233.9 357.3,237.1 357.0,240.2 353.8,240.3 350.6,240.4 347.4,240.5 344.1,240.6 340.9,240.7 337.7,240.8 337.7,238.6 337.8,236.5 334.8,235.8 335.0,232.4 335.2,228.9 335.3,225.5 335.5,222.1 335.1,219.3 334.7,216.4 334.3,213.6Z"/><path d="M337.7,240.8 340.9,240.7 344.1,240.6 347.4,240.5 350.6,240.4 353.8,240.3 357.0,240.2 357.0,242.9 357.0,245.6 355.8,248.4 354.6,251.2 354.0,253.5 353.5,255.8 356.7,255.7 359.9,255.6 363.1,255.5 366.3,255.4 367.1,258.4 367.8,260.3 369.8,261.8 367.8,263.8 368.5,266.1 369.2,268.4 367.0,268.9 364.8,269.3 362.8,269.0 360.8,268.7 358.7,268.3 356.7,267.9 353.3,267.0 350.0,266.0 346.7,265.7 343.5,265.3 341.0,265.7 338.5,266.1 339.3,263.1 339.5,259.2 340.1,256.9 340.7,254.6 339.4,251.9 338.1,249.3 337.5,248.5 337.6,244.6 337.7,240.8Z"/><path d="M347.7,135.7 349.9,135.5 352.1,135.3 354.8,134.2 357.2,137.1 358.9,138.9 361.8,139.8 364.6,140.6 366.9,141.3 368.6,142.1 370.3,142.8 372.0,146.2 373.6,148.1 372.4,150.5 371.2,152.9 372.9,150.7 374.5,148.5 376.7,145.6 376.0,148.4 375.3,151.1 375.0,153.7 374.7,156.2 374.3,158.4 373.9,160.5 373.5,164.4 374.4,168.2 371.6,168.3 368.9,168.3 366.1,168.4 363.3,168.5 360.6,168.5 357.8,168.6 355.0,166.7 354.4,163.8 353.9,160.9 353.7,160.2 351.5,157.1 349.4,155.4 347.3,153.6 344.3,151.3 344.8,147.7 344.4,144.8 345.6,142.9 346.8,140.9 346.7,138.6 346.6,136.4 347.7,135.7Z"/><path d="M357.8,168.6 360.6,168.5 363.3,168.5 366.1,168.4 368.9,168.3 371.6,168.3 374.4,168.2 375.1,170.4 375.7,172.7 376.6,173.7 377.0,177.4 377.3,181.0 377.6,184.6 378.0,188.2 378.3,191.8 378.2,195.5 377.4,197.6 376.7,199.7 376.2,203.4 375.6,206.0 373.6,208.6 371.8,209.2 370.0,209.8 367.3,207.2 365.5,203.6 363.8,201.4 362.1,199.2 362.2,195.9 360.4,194.2 358.6,192.6 357.4,190.4 356.2,188.1 354.1,184.6 355.8,181.4 356.3,178.8 358.5,176.1 361.0,173.8 359.9,170.4 357.8,168.6Z"/><path d="M376.6,173.7 378.6,174.7 380.8,173.5 383.7,173.5 386.6,173.5 389.5,173.4 392.4,173.3 392.8,176.6 393.3,179.9 393.7,183.1 394.1,186.4 394.5,189.6 394.8,192.8 393.2,194.4 391.6,196.0 389.5,199.3 388.3,200.0 385.5,202.0 382.4,202.4 380.6,202.3 378.7,202.2 376.2,203.4 376.7,199.7 377.4,197.6 378.2,195.5 378.3,191.8 378.0,188.2 377.6,184.6 377.3,181.0 377.0,177.4 376.6,173.7Z"/><path d="M392.4,173.3 395.1,173.0 397.7,172.7 400.3,172.4 403.0,173.1 404.9,173.7 406.7,174.2 408.7,173.6 410.6,172.9 412.4,171.3 414.2,169.7 416.7,168.2 417.3,171.6 417.9,174.9 418.6,178.3 418.4,180.4 418.2,182.5 417.8,186.0 416.4,187.4 415.0,188.8 413.1,191.7 411.1,195.0 409.1,198.5 407.6,196.7 406.2,194.8 404.1,195.2 402.0,195.6 400.0,194.7 398.1,193.7 396.5,193.3 394.8,192.8 394.5,189.6 394.1,186.4 393.7,183.1 393.3,179.9 392.8,176.6 392.4,173.3Z"/><path d="M380.8,173.5 380.8,170.9 380.7,168.2 380.7,165.5 381.0,161.8 381.2,158.0 380.7,154.3 380.3,150.6 381.2,148.2 382.1,145.9 383.7,144.5 385.4,143.1 387.1,141.9 388.7,140.7 390.3,141.3 391.9,141.8 394.5,143.4 397.1,145.0 396.9,147.8 396.7,150.6 396.6,153.4 394.8,155.7 397.3,154.1 399.9,152.4 401.5,155.2 403.2,158.0 403.6,160.3 404.1,162.7 403.4,166.0 402.7,169.3 400.3,172.4 397.7,172.7 395.1,173.0 392.4,173.3 389.5,173.4 386.6,173.5 383.7,173.5 380.8,173.5Z"/><path d="M357.2,137.1 359.8,135.7 361.7,134.9 363.6,134.0 365.4,132.8 367.3,131.6 368.8,130.8 370.4,130.0 368.7,133.1 370.3,135.8 372.0,135.9 373.6,136.0 375.8,136.1 378.0,136.2 380.7,134.9 383.3,133.5 384.9,133.6 386.5,133.7 389.0,135.8 391.9,137.1 393.1,138.2 390.4,138.8 387.7,139.4 386.1,139.4 384.4,139.3 382.3,140.0 380.1,140.8 378.3,141.5 376.5,142.1 374.7,142.2 374.2,145.2 373.6,148.1 372.0,146.2 370.3,142.8 368.6,142.1 366.9,141.3 364.6,140.6 361.8,139.8 358.9,138.9 357.2,137.1Z"/><path d="M376.2,203.4 378.7,202.2 380.6,202.3 382.4,202.4 385.5,202.0 388.3,200.0 389.5,199.3 391.6,196.0 393.2,194.4 394.8,192.8 396.5,193.3 398.1,193.7 400.0,194.7 402.0,195.6 404.1,195.2 406.2,194.8 407.6,196.7 409.1,198.5 411.3,201.0 413.5,202.7 411.7,204.7 410.0,206.1 407.1,209.0 405.4,209.9 403.7,210.8 400.7,211.1 397.6,211.3 394.6,211.4 391.6,211.6 388.6,211.7 385.6,211.8 382.6,211.8 379.6,211.9 376.6,211.9 376.7,213.0 373.7,213.1 370.7,213.1 367.6,213.2 368.8,212.4 370.0,209.8 371.8,209.2 373.6,208.6 375.6,206.0 376.2,203.4Z"/><path d="M367.6,213.2 370.7,213.1 373.7,213.1 376.7,213.0 376.6,211.9 379.6,211.9 382.6,211.8 385.6,211.8 388.6,211.7 391.6,211.6 394.6,211.4 397.6,211.3 400.7,211.1 403.7,210.8 406.8,210.5 409.9,210.2 413.0,209.8 416.1,209.5 415.0,211.8 412.9,213.2 410.8,214.5 407.7,216.7 405.9,217.7 404.0,218.6 401.6,221.1 400.3,223.1 397.6,223.3 395.0,223.5 392.3,223.7 389.6,223.9 386.9,224.0 384.2,224.1 381.5,224.2 378.9,224.2 376.2,224.3 373.6,224.3 370.9,224.4 368.3,224.4 365.6,224.4 362.9,224.5 364.2,223.7 365.1,219.9 366.5,216.9 367.6,213.2Z"/><path d="M362.9,224.5 365.6,224.4 368.3,224.4 370.9,224.4 373.6,224.3 376.2,224.3 376.2,225.0 376.0,228.9 375.8,232.7 375.5,236.5 375.3,240.4 375.0,244.3 374.7,248.1 374.9,251.9 375.1,255.7 375.4,259.4 373.2,259.5 371.1,259.6 367.8,260.3 367.1,258.4 366.3,255.4 363.1,255.5 359.9,255.6 356.7,255.7 353.5,255.8 354.0,253.5 354.6,251.2 355.8,248.4 357.0,245.6 357.0,242.9 357.0,240.2 357.3,237.1 357.6,233.9 359.3,231.5 361.0,229.1 362.0,226.8 362.9,224.5Z"/><path d="M376.2,224.3 378.9,224.2 381.5,224.2 384.2,224.1 386.9,224.0 389.6,223.9 392.3,223.7 392.9,226.9 393.6,230.1 394.2,233.3 394.9,236.5 395.5,239.7 396.3,241.8 397.1,243.8 396.9,246.2 396.4,249.3 396.8,251.6 397.2,253.9 394.4,254.1 391.6,254.3 388.8,254.5 385.9,254.6 383.1,254.7 380.3,254.8 380.8,257.0 381.3,259.2 379.7,260.0 379.0,258.0 378.3,256.0 377.3,259.1 375.4,259.4 375.1,255.7 374.9,251.9 374.7,248.1 375.0,244.3 375.3,240.4 375.5,236.5 375.8,232.7 376.0,228.9 376.2,225.0 376.2,224.3Z"/><path d="M400.3,223.1 402.9,222.8 405.5,222.5 408.1,222.2 406.6,224.6 409.9,226.0 411.7,228.0 413.5,229.9 414.9,231.7 416.2,233.5 417.5,235.5 418.8,237.5 420.2,239.4 421.5,241.4 422.8,241.6 421.4,245.3 420.6,248.5 420.0,252.4 416.9,254.7 416.4,255.8 415.3,254.4 412.4,254.7 409.6,255.1 406.7,255.4 403.9,255.6 401.1,255.9 398.2,256.1 397.2,253.9 396.8,251.6 396.4,249.3 396.9,246.2 397.1,243.8 396.3,241.8 395.5,239.7 394.9,236.5 394.2,233.3 393.6,230.1 392.9,226.9 392.3,223.7 395.0,223.5 397.6,223.3 400.3,223.1Z"/><path d="M420.0,252.4 416.9,254.7 416.4,255.8 415.3,254.4 412.4,254.7 409.6,255.1 406.7,255.4 403.9,255.6 401.1,255.9 398.2,256.1 397.2,253.9 394.4,254.1 391.6,254.3 388.8,254.5 385.9,254.6 383.1,254.7 380.3,254.8 380.8,257.0 381.3,259.2 383.8,259.1 386.4,259.1 388.9,259.0 390.9,259.9 392.9,260.7 395.0,263.2 397.7,264.1 400.8,261.5 403.4,260.4 406.0,261.1 407.8,263.2 409.6,265.2 412.5,267.2 413.2,269.4 413.9,271.6 414.0,274.4 414.1,277.1 415.4,279.6 416.7,282.2 420.3,285.6 421.4,287.8 422.5,290.0 426.4,293.3 428.7,294.9 432.1,293.6 433.3,289.5 433.2,286.6 433.2,283.6 432.5,281.0 431.8,278.3 430.5,275.2 429.2,272.2 427.9,269.1 426.0,266.4 424.2,263.7 422.7,260.8 421.2,257.9 420.6,255.1 420.0,252.4Z"/><path d="M408.1,222.2 410.6,221.2 413.1,220.1 415.8,219.9 418.5,219.7 421.1,219.4 421.9,220.4 422.9,221.6 425.4,221.3 427.8,221.0 430.2,220.7 432.8,222.6 435.5,224.5 438.1,226.4 436.5,228.2 434.7,229.9 432.2,233.4 428.8,236.4 425.5,239.0 422.8,241.6 421.5,241.4 420.2,239.4 418.8,237.5 417.5,235.5 416.2,233.5 414.9,231.7 413.5,229.9 411.7,228.0 409.9,226.0 406.6,224.6 408.1,222.2Z"/><path d="M449.9,202.5 447.3,203.3 444.6,204.0 442.0,204.8 439.3,205.4 436.5,206.1 433.8,206.7 430.9,207.2 428.0,207.7 425.1,208.2 422.1,208.7 419.1,209.1 416.1,209.5 415.0,211.8 412.9,213.2 410.8,214.5 407.7,216.7 405.9,217.7 404.0,218.6 401.6,221.1 400.3,223.1 402.9,222.8 405.5,222.5 408.1,222.2 410.6,221.2 413.1,220.1 415.8,219.9 418.5,219.7 421.1,219.4 421.9,220.4 422.9,221.6 425.4,221.3 427.8,221.0 430.2,220.7 432.8,222.6 435.5,224.5 438.1,226.4 439.8,226.1 441.5,225.8 442.5,222.2 443.9,220.7 445.3,219.2 446.9,218.4 448.4,217.6 450.5,213.9 453.0,211.9 452.4,209.9 451.9,207.9 450.9,205.2 449.9,202.5Z"/><path d="M403.7,210.8 405.4,209.9 407.1,209.0 410.0,206.1 411.7,204.7 413.5,202.7 416.7,204.5 418.6,203.8 420.5,203.1 422.1,202.3 423.7,201.5 425.1,198.2 425.7,195.4 426.3,192.6 428.5,193.3 430.3,189.0 432.8,186.4 434.5,186.1 436.2,185.8 436.5,184.3 438.2,184.8 440.3,186.1 441.0,187.1 440.7,190.4 442.3,191.5 444.7,191.6 447.0,191.8 446.5,194.6 447.8,197.1 449.1,199.7 449.9,202.5 447.3,203.3 444.6,204.0 442.0,204.8 439.3,205.4 436.5,206.1 433.8,206.7 430.9,207.2 428.0,207.7 425.1,208.2 422.1,208.7 419.1,209.1 416.1,209.5 413.0,209.8 409.9,210.2 406.8,210.5 403.7,210.8Z"/><path d="M409.1,198.5 411.1,195.0 413.1,191.7 415.0,188.8 416.4,187.4 417.8,186.0 418.2,182.5 418.4,180.4 418.6,178.3 419.2,181.7 419.8,185.2 421.8,184.8 423.8,184.4 425.9,183.9 426.2,185.9 426.5,187.9 428.4,185.9 430.2,183.8 431.8,183.2 433.3,182.6 436.5,184.3 436.2,185.8 434.5,186.1 432.8,186.4 430.3,189.0 428.5,193.3 426.3,192.6 425.7,195.4 425.1,198.2 423.7,201.5 422.1,202.3 420.5,203.1 418.6,203.8 416.7,204.5 413.5,202.7 411.3,201.0 409.1,198.5Z"/><path d="M425.9,183.9 428.5,183.3 431.2,182.7 433.8,181.9 436.5,181.1 439.1,180.3 441.6,179.4 444.2,178.4 446.8,177.4 447.9,180.3 449.0,183.3 450.0,186.4 452.3,186.0 454.5,185.6 455.4,188.5 452.7,189.5 450.1,190.6 449.2,188.5 448.7,185.6 448.2,182.8 446.4,180.5 446.0,184.7 446.2,187.1 446.3,189.6 447.0,191.8 444.7,191.6 442.3,191.5 440.7,190.4 441.0,187.1 440.3,186.1 438.2,184.8 436.5,184.3 433.3,182.6 431.8,183.2 430.2,183.8 428.4,185.9 426.5,187.9 426.2,185.9 425.9,183.9Z"/><path d="M450.1,190.6 452.7,189.5 455.4,188.5 454.2,191.6 452.6,192.5 450.9,193.4 450.1,190.6Z"/><path d="M446.8,177.4 447.6,176.2 448.8,176.0 450.5,178.5 452.4,181.3 453.7,183.8 454.5,185.6 452.3,186.0 450.0,186.4 449.0,183.3 447.9,180.3 446.8,177.4Z"/><path d="M416.7,168.2 418.7,166.7 420.6,165.2 421.0,167.2 423.7,166.6 426.5,165.9 429.2,165.2 432.0,164.5 434.7,163.7 437.4,162.9 440.1,162.1 442.8,161.3 445.4,160.5 447.1,161.1 450.1,163.9 448.6,167.4 448.6,170.0 450.5,171.7 451.9,172.3 450.2,174.4 448.8,176.0 447.6,176.2 446.8,177.4 444.2,178.4 441.6,179.4 439.1,180.3 436.5,181.1 433.8,181.9 431.2,182.7 428.5,183.3 425.9,183.9 423.8,184.4 421.8,184.8 419.8,185.2 419.2,181.7 418.6,178.3 417.9,174.9 417.3,171.6 416.7,168.2Z"/><path d="M450.1,163.9 452.6,164.5 455.0,165.1 454.9,167.3 454.0,169.3 455.4,169.4 455.8,171.5 456.1,173.6 454.9,177.4 453.7,179.4 452.5,181.5 451.8,179.6 448.9,177.9 448.8,176.0 450.2,174.4 451.9,172.3 450.5,171.7 448.6,170.0 448.6,167.4 450.1,163.9Z"/><path d="M451.0,136.2 448.7,136.8 446.3,137.5 444.0,138.1 442.4,140.0 440.7,142.0 439.1,144.0 437.9,145.4 436.6,146.9 437.5,148.8 438.3,150.7 436.4,152.3 434.4,153.9 431.6,154.4 428.8,154.8 426.9,155.5 425.1,156.2 423.2,156.9 424.5,159.4 422.6,162.3 420.6,165.2 421.0,167.2 423.7,166.6 426.5,165.9 429.2,165.2 432.0,164.5 434.7,163.7 437.4,162.9 440.1,162.1 442.8,161.3 445.4,160.5 447.1,161.1 450.1,163.9 452.6,164.5 455.0,165.1 454.9,167.3 455.1,168.0 457.8,167.2 460.3,165.6 462.8,164.1 464.2,163.0 465.7,161.9 463.8,162.6 462.0,163.4 459.7,164.3 457.3,165.2 456.3,164.7 456.6,162.4 456.0,159.8 455.3,157.3 455.3,154.7 455.3,152.1 454.6,149.1 453.9,146.1 452.4,143.5 452.0,141.1 451.5,138.7 451.0,136.2Z"/><path d="M455.3,157.3 457.6,156.7 459.9,156.1 462.2,155.6 464.5,155.1 465.0,157.5 465.4,160.0 463.1,160.9 461.3,161.6 459.5,162.4 457.9,163.5 456.3,164.7 456.6,162.4 456.0,159.8 455.3,157.3Z"/><path d="M464.5,155.1 466.7,154.5 467.9,156.1 469.1,157.7 467.2,158.9 465.4,160.0 465.0,157.5 464.5,155.1Z"/><path d="M459.7,151.1 457.5,151.6 455.3,152.1 455.3,154.7 455.3,157.3 457.6,156.7 459.9,156.1 462.2,155.6 464.5,155.1 466.7,154.5 467.9,156.1 469.1,157.7 471.5,156.8 473.2,156.0 474.9,155.2 474.7,153.4 473.8,152.5 472.9,153.5 471.6,154.9 469.6,151.7 468.5,149.8 468.2,147.9 466.1,149.4 463.9,149.9 461.8,150.5 459.7,151.1Z"/><path d="M451.0,136.2 453.4,135.6 455.7,135.0 458.1,134.4 460.5,133.8 460.5,136.1 459.2,139.5 459.2,141.8 459.2,144.0 459.1,147.8 459.7,151.1 457.5,151.6 455.3,152.1 454.6,149.1 453.9,146.1 452.4,143.5 452.0,141.1 451.5,138.7 451.0,136.2Z"/><path d="M460.5,133.8 462.0,131.2 462.9,134.0 463.8,136.8 464.6,139.3 465.5,141.7 466.9,144.0 468.4,146.3 468.2,147.9 466.1,149.4 463.9,149.9 461.8,150.5 459.7,151.1 459.1,147.8 459.2,144.0 459.2,141.8 459.2,139.5 460.5,136.1 460.5,133.8Z"/><path d="M468.4,146.3 469.0,144.2 469.5,142.1 471.8,140.1 473.7,138.5 475.6,136.9 477.3,135.7 479.0,134.5 481.0,133.2 483.0,131.9 484.2,130.4 485.4,128.8 483.4,126.7 481.3,124.6 479.1,123.6 478.2,120.2 477.4,116.8 476.6,113.4 475.0,112.8 473.4,112.1 472.0,113.1 470.5,114.0 468.4,112.6 467.0,115.9 465.6,119.3 465.3,122.1 465.1,124.9 464.2,128.3 462.0,131.2 462.9,134.0 463.8,136.8 464.6,139.3 465.5,141.7 466.9,144.0 468.4,146.3Z"/><path d="M440.2,185.5 h1.6 v1.6 h-1.6 Z"/><path d="M182.4,261.2 L188.4,258.2 L197.3,256.7 L204.8,262 L213.8,265 L213.0,294.9 L217.7,298.4 L221.7,299.4 L227.7,305.4 L232.2,311.2 L229,313 L223.7,308.4 L217.7,304.3 L211.7,300.4 L204.8,296.6 L199.8,295.3 L194.3,293.2 L192.6,292.4 L191.3,296 L189.4,299.4 L185.8,300.6 L180,302.8 L171.8,305 L175.6,301.6 L180.9,296.3 L175.6,293.4 L173.4,287.4 L174.9,282.1 L180.0,279.5 L177.1,273.9 L176.4,268.7 L183.1,269.4 L184.6,266.4 Z M168.2,272.2 L171.2,274.2 L170.2,275 L167.8,273 Z M169,285.4 L171,285.8 L170.6,287 L168.6,286.6 Z M160.8,278.5 L162,279.2 L161.6,280.2 L160.4,279.6 Z M158.6,290 L160.6,290.3 L160.4,291.2 L158.4,290.9 Z M184.2,302.6 L188.6,300 L190.4,300.6 L186,303.4 Z"/><path d="M362,285.5 L365,285.3 L365.5,287.8 L362.5,288.2 Z M357.5,287.5 L359,287 L358.8,289 L357.6,288.8 Z M375,291 L378,291.5 L378.5,293.5 L376,294 Z M382.5,295 L387,295.3 L386.5,296.5 L382.5,296.2 Z M388.5,296.5 L392,297.5 L393,299.3 L389.5,299 Z M384.6,297.4 L385.8,297.4 L385.8,298.6 L384.6,298.6 Z M387.4,299.6 L388.6,299.6 L388.6,300.6 L387.4,300.6 Z M394.8,303 L400,305 L404,310 L396.5,315 L393,309 Z"/></g>
<g stroke-width="0.9" stroke-linejoin="round"><path d="M176.2,114.2 176.6,111.5 177.5,108.5 177.9,105.7 178.2,103.0 178.3,100.2 178.3,97.4 179.6,98.6 180.9,99.8 183.4,101.0 185.8,102.1 185.9,105.6 185.0,107.5 184.1,109.5 186.9,109.2 188.1,106.7 189.3,104.3 189.5,101.9 189.6,99.5 190.0,96.4 192.4,97.2 194.8,97.9 197.2,98.7 199.7,99.4 202.1,100.2 204.6,100.9 207.0,101.6 209.5,102.3 211.9,102.9 214.4,103.6 216.8,104.2 219.3,104.8 218.3,108.0 217.4,111.2 216.4,114.3 215.4,117.5 214.4,120.7 213.3,123.9 213.0,127.1 210.8,126.6 208.5,126.0 206.3,125.4 204.0,124.8 201.8,124.2 199.9,124.3 198.2,124.1 196.5,123.9 194.4,123.7 192.4,123.6 190.7,123.4 189.0,123.3 187.4,122.6 185.9,121.9 182.8,122.2 180.7,120.7 180.9,117.9 180.3,116.4 178.5,115.0 176.2,114.2Z" fill="#c39500" stroke="#c39500"/><path d="M162.9,144.5 163.0,141.2 163.4,137.8 165.4,134.7 167.6,132.2 169.0,129.4 170.4,126.6 172.3,123.2 173.3,121.0 174.3,118.9 175.2,116.5 176.2,114.2 178.5,115.0 180.3,116.4 180.9,117.9 180.7,120.7 182.8,122.2 185.9,121.9 187.4,122.6 189.0,123.3 190.7,123.4 192.4,123.6 194.4,123.7 196.5,123.9 198.2,124.1 199.9,124.3 201.8,124.2 204.0,124.8 206.3,125.4 208.5,126.0 210.8,126.6 213.0,127.1 213.7,130.5 214.2,131.8 211.9,134.8 209.5,136.7 207.4,139.4 207.2,143.3 206.2,146.6 205.2,150.0 204.3,153.3 203.4,156.6 200.5,155.9 197.6,155.1 194.7,154.4 191.8,153.6 189.0,152.8 186.2,152.0 183.5,151.2 180.9,150.4 178.3,149.6 175.7,148.8 173.1,148.0 170.6,147.1 168.0,146.2 165.5,145.4 162.9,144.5Z" fill="#c39500" stroke="#c39500"/><path d="M187.1,225.1 186.8,221.5 185.3,218.1 182.7,214.8 180.8,214.0 180.4,212.1 178.0,211.5 175.9,210.0 174.1,207.6 171.5,206.7 168.8,205.8 168.0,204.4 168.4,202.4 168.9,200.4 167.9,197.8 166.1,194.6 164.7,192.2 163.4,189.9 163.6,187.6 165.0,186.5 163.7,184.9 162.3,182.1 162.7,178.4 163.0,176.9 160.3,175.6 160.4,173.3 159.3,170.4 158.3,167.4 158.9,164.2 159.5,161.0 157.7,156.8 157.9,155.3 159.5,153.6 161.0,151.9 161.6,149.1 162.3,146.3 162.9,144.5 165.5,145.4 168.0,146.2 170.6,147.1 173.1,148.0 175.7,148.8 178.3,149.6 180.9,150.4 183.5,151.2 186.2,152.0 185.0,155.6 184.0,159.3 183.0,162.9 182.0,166.6 181.0,170.2 180.0,173.8 182.3,177.3 184.6,180.7 186.9,184.1 189.3,187.5 191.7,190.9 194.2,194.3 196.7,197.7 199.2,201.0 201.8,204.4 204.4,207.7 207.0,211.0 207.1,213.7 207.3,216.3 209.2,217.0 207.2,217.8 205.8,220.1 204.3,222.5 205.0,225.6 203.2,227.3 200.0,226.9 196.8,226.5 193.5,226.1 190.3,225.6 187.1,225.1Z" fill="#e8702a" stroke="#e8702a"/><path d="M186.2,152.0 189.0,152.8 191.8,153.6 194.7,154.4 197.6,155.1 200.5,155.9 203.4,156.6 206.3,157.3 209.2,158.0 212.2,158.7 215.1,159.3 218.1,160.0 221.0,160.6 220.2,164.3 219.4,167.9 218.6,171.6 217.9,175.3 217.1,179.0 216.4,182.7 215.6,186.4 214.9,190.0 214.2,193.7 213.5,197.3 212.9,200.2 212.4,203.1 210.1,203.4 207.9,203.7 207.9,207.5 207.0,211.0 204.4,207.7 201.8,204.4 199.2,201.0 196.7,197.7 194.2,194.3 191.7,190.9 189.3,187.5 186.9,184.1 184.6,180.7 182.3,177.3 180.0,173.8 181.0,170.2 182.0,166.6 183.0,162.9 184.0,159.3 185.0,155.6 186.2,152.0Z" fill="#e8702a" stroke="#e8702a"/><path d="M219.3,104.8 218.3,108.0 217.4,111.2 216.4,114.3 215.4,117.5 214.4,120.7 213.3,123.9 213.0,127.1 213.7,130.5 214.2,131.8 211.9,134.8 209.5,136.7 207.4,139.4 207.2,143.3 206.2,146.6 205.2,150.0 204.3,153.3 203.4,156.6 206.3,157.3 209.2,158.0 212.2,158.7 215.1,159.3 218.1,160.0 221.0,160.6 224.0,161.1 227.1,161.7 230.1,162.2 233.1,162.7 236.0,163.2 239.0,163.8 239.6,160.0 240.4,156.2 241.1,152.4 241.9,148.6 242.7,144.8 241.1,142.8 238.4,143.0 235.8,143.3 233.7,143.3 231.6,143.3 229.8,139.7 229.2,136.3 228.7,132.9 226.9,133.1 225.1,133.3 227.1,130.2 227.4,127.8 227.7,125.4 226.2,124.1 224.5,119.8 222.8,117.1 223.4,115.6 222.2,113.4 223.3,109.7 224.3,106.0 221.8,105.4 219.3,104.8Z" fill="#c39500" stroke="#c39500"/><path d="M224.3,106.0 226.9,106.6 229.4,107.1 232.0,107.7 234.5,108.2 237.1,108.7 239.6,109.1 242.2,109.6 244.7,110.0 247.3,110.5 249.8,110.9 252.3,111.3 254.9,111.6 257.4,112.0 259.9,112.4 262.5,112.7 265.0,113.0 267.5,113.3 270.0,113.6 272.6,113.9 275.1,114.2 277.6,114.4 280.1,114.7 282.7,114.9 285.2,115.2 284.8,118.5 284.4,121.7 283.9,125.0 283.5,128.4 283.1,131.7 282.7,135.0 282.3,138.4 281.9,142.0 281.4,145.6 278.7,145.4 276.0,145.1 273.3,144.9 270.6,144.6 267.9,144.3 265.2,144.0 262.5,143.7 259.8,143.4 257.1,143.0 254.4,142.7 251.7,142.3 249.0,141.9 246.3,141.5 243.5,141.0 242.7,144.8 241.1,142.8 238.4,143.0 235.8,143.3 233.7,143.3 231.6,143.3 229.8,139.7 229.2,136.3 228.7,132.9 226.9,133.1 225.1,133.3 227.1,130.2 227.4,127.8 227.7,125.4 226.2,124.1 224.5,119.8 222.8,117.1 223.4,115.6 222.2,113.4 223.3,109.7 224.3,106.0Z" fill="#c39500" stroke="#c39500"/><path d="M242.7,144.8 243.5,141.0 246.3,141.5 249.0,141.9 251.7,142.3 254.4,142.7 257.1,143.0 259.8,143.4 262.5,143.7 265.2,144.0 267.9,144.3 270.6,144.6 273.3,144.9 276.0,145.1 278.7,145.4 281.4,145.6 281.0,149.5 280.5,153.5 280.0,157.4 279.6,161.3 279.1,165.3 278.7,169.2 278.2,173.1 277.8,177.0 274.9,176.7 272.0,176.5 269.1,176.2 266.2,175.9 263.4,175.6 260.5,175.2 257.6,174.9 254.8,174.5 251.9,174.1 249.1,173.6 246.2,173.0 243.4,172.5 240.5,171.9 237.6,171.3 238.3,167.5 239.0,163.8 239.6,160.0 240.4,156.2 241.1,152.4 241.9,148.6 242.7,144.8Z" fill="#c39500" stroke="#c39500"/><path d="M221.0,160.6 224.0,161.1 227.1,161.7 230.1,162.2 233.1,162.7 236.0,163.2 239.0,163.8 238.3,167.5 237.6,171.3 240.5,171.9 243.4,172.5 246.2,173.0 249.1,173.6 248.5,177.4 247.8,181.1 247.2,184.9 246.6,188.6 246.0,192.4 245.5,196.1 244.9,199.8 244.4,203.5 241.3,202.9 238.3,202.3 235.2,201.8 232.2,201.2 229.1,200.6 226.0,199.9 222.9,199.3 219.7,198.7 216.6,198.0 213.5,197.3 214.2,193.7 214.9,190.0 215.6,186.4 216.4,182.7 217.1,179.0 217.9,175.3 218.6,171.6 219.4,167.9 220.2,164.3 221.0,160.6Z" fill="#c39500" stroke="#c39500"/><path d="M249.1,173.6 251.9,174.1 254.8,174.5 257.6,174.9 260.5,175.2 263.4,175.6 266.2,175.9 269.1,176.2 272.0,176.5 274.9,176.7 277.8,177.0 280.7,177.2 283.6,177.4 286.5,177.6 289.4,177.8 289.1,181.6 288.8,185.5 288.4,189.3 288.1,193.0 287.8,196.8 287.5,200.6 287.2,204.3 286.9,208.1 283.9,208.0 280.9,208.0 278.0,207.8 275.1,207.6 272.3,207.3 269.5,207.1 266.7,206.7 263.9,206.4 261.1,206.0 258.3,205.7 255.5,205.3 252.7,204.8 250.0,204.4 247.2,203.9 244.4,203.5 244.9,199.8 245.5,196.1 246.0,192.4 246.6,188.6 247.2,184.9 247.8,181.1 248.5,177.4 249.1,173.6Z" fill="#e8702a" stroke="#e8702a"/><path d="M213.5,197.3 216.6,198.0 219.7,198.7 222.9,199.3 226.0,199.9 229.1,200.6 232.2,201.2 235.2,201.8 238.3,202.3 241.3,202.9 244.4,203.5 243.9,206.9 243.4,210.3 242.9,213.7 242.4,217.1 242.0,220.5 241.5,223.9 241.1,227.3 240.6,230.7 240.2,234.1 239.8,237.5 239.3,240.9 238.9,244.3 236.2,243.8 233.6,243.4 230.9,243.0 228.3,242.5 225.6,242.0 222.6,240.4 219.7,238.8 216.8,237.2 213.9,235.5 210.9,233.9 208.0,232.2 205.1,230.5 202.2,228.8 203.2,227.3 205.0,225.6 204.3,222.5 205.8,220.1 207.2,217.8 209.2,217.0 207.3,216.3 207.1,213.7 207.0,211.0 207.9,207.5 207.9,203.7 210.1,203.4 212.4,203.1 212.9,200.2 213.5,197.3Z" fill="#e8702a" stroke="#e8702a"/><path d="M244.4,203.5 247.2,203.9 250.0,204.4 252.7,204.8 255.5,205.3 258.3,205.7 261.1,206.0 263.9,206.4 266.7,206.7 269.5,207.1 272.3,207.3 275.1,207.6 278.0,207.8 280.9,208.0 280.6,211.7 280.2,215.4 279.9,219.1 279.6,222.8 279.2,226.5 278.9,230.2 278.5,233.9 278.2,237.6 277.9,241.2 277.5,244.9 274.6,244.6 271.8,244.2 268.9,243.9 266.1,243.5 263.3,243.1 260.5,242.8 257.7,242.3 254.9,241.9 255.4,243.6 252.8,243.2 250.1,242.8 247.4,242.4 244.7,241.9 244.3,245.2 241.6,244.7 238.9,244.3 239.3,240.9 239.8,237.5 240.2,234.1 240.6,230.7 241.1,227.3 241.5,223.9 242.0,220.5 242.4,217.1 242.9,213.7 243.4,210.3 243.9,206.9 244.4,203.5Z" fill="#9b1b1f" stroke="#9b1b1f"/><path d="M285.2,115.2 287.7,115.4 290.1,115.6 292.6,115.8 295.1,116.0 297.6,116.2 300.1,116.4 302.6,116.6 305.1,116.7 307.6,116.9 310.1,117.0 312.6,117.2 315.1,117.3 317.6,117.4 320.2,117.6 320.4,120.6 320.5,123.7 321.1,126.0 321.7,128.3 321.7,130.6 321.8,132.9 322.2,135.4 322.7,138.0 322.9,141.2 320.1,141.1 317.4,140.9 314.6,140.8 311.9,140.7 309.2,140.5 306.5,140.3 303.8,140.2 301.1,140.0 298.4,139.8 295.7,139.5 293.0,139.3 290.3,139.1 287.6,138.8 285.0,138.6 282.3,138.4 282.7,135.0 283.1,131.7 283.5,128.4 283.9,125.0 284.4,121.7 284.8,118.5 285.2,115.2Z" fill="#c39500" stroke="#c39500"/><path d="M282.3,138.4 281.9,142.0 281.4,145.6 281.0,149.5 280.5,153.5 280.0,157.4 279.6,161.3 282.2,161.6 284.8,161.8 287.4,162.0 290.0,162.2 292.7,162.4 295.3,162.6 298.0,162.8 300.7,163.0 303.4,163.2 306.0,163.4 308.7,163.6 311.5,163.8 313.2,164.7 314.9,165.6 317.0,165.5 319.1,165.4 322.0,166.7 323.5,168.4 323.0,166.4 322.6,164.5 323.5,160.6 323.5,157.1 323.5,153.5 323.5,149.9 323.5,146.3 323.2,143.7 322.9,141.2 320.1,141.1 317.4,140.9 314.6,140.8 311.9,140.7 309.2,140.5 306.5,140.3 303.8,140.2 301.1,140.0 298.4,139.8 295.7,139.5 293.0,139.3 290.3,139.1 287.6,138.8 285.0,138.6 282.3,138.4Z" fill="#c39500" stroke="#c39500"/><path d="M277.8,177.0 278.2,173.1 278.7,169.2 279.1,165.3 279.6,161.3 282.2,161.6 284.8,161.8 287.4,162.0 290.0,162.2 292.7,162.4 295.3,162.6 298.0,162.8 300.7,163.0 303.4,163.2 306.0,163.4 308.7,163.6 311.5,163.8 313.2,164.7 314.9,165.6 317.0,165.5 319.1,165.4 322.0,166.7 323.5,168.4 324.0,169.1 325.5,172.2 325.7,175.6 326.9,178.2 327.1,180.6 327.3,182.9 328.7,185.1 330.2,187.3 327.2,187.2 324.2,187.1 321.2,187.0 318.2,186.9 315.2,186.8 312.2,186.6 309.3,186.5 306.3,186.4 303.4,186.2 300.4,186.1 297.5,185.9 294.6,185.8 291.7,185.6 288.8,185.5 289.1,181.6 289.4,177.8 286.5,177.6 283.6,177.4 280.7,177.2 277.8,177.0Z" fill="#c39500" stroke="#c39500"/><path d="M288.8,185.5 291.7,185.6 294.6,185.8 297.5,185.9 300.4,186.1 303.4,186.2 306.3,186.4 309.3,186.5 312.2,186.6 315.2,186.8 318.2,186.9 321.2,187.0 324.2,187.1 327.2,187.2 330.2,187.3 332.0,188.8 332.7,190.7 334.5,194.1 334.5,197.2 334.4,200.3 334.4,203.5 334.4,206.6 334.4,209.8 331.1,209.8 327.9,209.7 324.6,209.7 321.4,209.6 318.1,209.4 314.9,209.3 311.7,209.2 308.5,209.0 305.3,208.8 302.2,208.7 299.1,208.5 296.0,208.4 293.0,208.3 290.0,208.2 286.9,208.1 287.2,204.3 287.5,200.6 287.8,196.8 288.1,193.0 288.4,189.3 288.8,185.5Z" fill="#e8702a" stroke="#e8702a"/><path d="M286.9,208.1 290.0,208.2 293.0,208.3 296.0,208.4 299.1,208.5 302.2,208.7 305.3,208.8 308.5,209.0 311.7,209.2 314.9,209.3 318.1,209.4 321.4,209.6 324.6,209.7 327.9,209.7 331.1,209.8 334.4,209.8 334.3,213.6 334.7,216.4 335.1,219.3 335.5,222.1 335.3,225.5 335.2,228.9 335.0,232.4 334.8,235.8 332.1,234.9 329.4,233.9 327.4,234.0 325.4,234.1 323.0,234.1 320.7,234.0 317.4,234.8 314.7,233.4 311.5,232.5 308.2,231.3 306.0,230.6 303.7,229.9 300.5,229.0 298.6,227.6 298.8,223.8 298.9,220.0 299.1,216.1 299.3,212.4 296.2,212.2 293.1,212.1 290.0,212.0 286.9,211.9 283.7,211.8 280.6,211.7 280.9,208.0 283.9,208.0 286.9,208.1Z" fill="#e8702a" stroke="#e8702a"/><path d="M280.6,211.7 280.2,215.4 279.9,219.1 279.6,222.8 279.2,226.5 278.9,230.2 278.5,233.9 278.2,237.6 277.9,241.2 277.5,244.9 274.6,244.6 271.8,244.2 268.9,243.9 266.1,243.5 263.3,243.1 260.5,242.8 257.7,242.3 254.9,241.9 255.4,243.6 257.1,246.3 258.8,248.1 260.6,249.8 262.3,251.6 264.1,253.3 265.1,255.9 266.2,258.5 267.2,262.1 270.3,264.4 272.2,265.8 274.1,267.2 276.5,266.3 277.5,264.4 278.5,262.4 281.2,261.4 284.2,262.1 287.2,262.9 290.0,266.4 292.0,269.8 294.0,273.2 295.2,276.0 296.5,278.8 299.1,281.3 300.0,283.8 300.9,286.4 302.9,288.8 304.8,291.3 307.3,292.2 309.7,293.1 312.3,293.6 314.9,294.2 314.1,292.0 313.3,289.9 313.6,286.5 313.9,283.1 316.4,279.4 319.3,276.5 321.7,275.3 324.2,274.0 327.3,272.0 330.5,269.9 333.2,267.7 335.3,267.0 337.4,266.3 338.5,266.1 339.3,263.1 339.5,259.2 340.1,256.9 340.7,254.6 339.4,251.9 338.1,249.3 337.5,248.5 337.6,244.6 337.7,240.8 337.7,238.6 337.8,236.5 334.8,235.8 332.1,234.9 329.4,233.9 327.4,234.0 325.4,234.1 323.0,234.1 320.7,234.0 317.4,234.8 314.7,233.4 311.5,232.5 308.2,231.3 306.0,230.6 303.7,229.9 300.5,229.0 298.6,227.6 298.8,223.8 298.9,220.0 299.1,216.1 299.3,212.4 296.2,212.2 293.1,212.1 290.0,212.0 286.9,211.9 283.7,211.8 280.6,211.7Z" fill="#e8702a" stroke="#e8702a"/><path d="M320.2,117.6 322.3,117.7 324.5,117.8 326.7,117.8 328.9,117.9 331.1,118.0 331.2,115.1 332.9,115.6 333.4,117.9 334.0,120.2 336.1,121.1 338.2,121.9 340.3,121.6 342.5,121.4 345.2,122.4 347.9,123.3 350.6,123.9 353.3,124.5 356.0,124.9 358.7,125.2 361.5,126.0 359.5,126.9 357.6,127.8 355.6,128.7 353.0,130.5 350.3,132.2 347.7,135.7 346.6,136.4 346.7,138.6 346.8,140.9 345.6,142.9 344.4,144.8 344.8,147.7 344.3,151.3 347.3,153.6 349.4,155.4 351.5,157.1 353.7,160.2 353.9,160.9 351.2,161.0 348.4,161.0 345.6,161.0 342.9,161.0 340.1,161.0 337.3,160.9 334.6,160.9 331.8,160.9 329.1,160.8 326.3,160.7 323.5,160.6 323.5,157.1 323.5,153.5 323.5,149.9 323.5,146.3 323.2,143.7 322.9,141.2 322.7,138.0 322.2,135.4 321.8,132.9 321.7,130.6 321.7,128.3 321.1,126.0 320.5,123.7 320.4,120.6 320.2,117.6Z" fill="#c39500" stroke="#c39500"/><path d="M323.5,160.6 326.3,160.7 329.1,160.8 331.8,160.9 334.6,160.9 337.3,160.9 340.1,161.0 342.9,161.0 345.6,161.0 348.4,161.0 351.2,161.0 353.9,160.9 354.4,163.8 355.0,166.7 357.8,168.6 359.9,170.4 361.0,173.8 358.5,176.1 356.3,178.8 355.8,181.4 354.1,184.6 352.1,182.9 349.4,182.9 346.6,182.9 343.9,183.0 341.1,183.0 338.4,183.0 335.6,183.0 332.8,183.0 330.1,182.9 327.3,182.9 327.1,180.6 326.9,178.2 325.7,175.6 325.5,172.2 324.0,169.1 323.5,168.4 323.0,166.4 322.6,164.5 323.5,160.6Z" fill="#c39500" stroke="#c39500"/><path d="M327.3,182.9 328.7,185.1 330.2,187.3 332.0,188.8 332.7,190.7 334.5,194.1 334.5,197.2 334.4,200.3 334.4,203.5 334.4,206.6 334.4,209.8 334.3,213.6 337.6,213.6 340.9,213.6 344.2,213.6 347.4,213.5 350.7,213.5 353.9,213.4 357.2,213.3 360.4,213.3 363.5,213.2 362.3,217.0 364.4,216.9 366.5,216.9 367.6,213.2 368.8,212.4 370.0,209.8 367.3,207.2 365.5,203.6 363.8,201.4 362.1,199.2 362.2,195.9 360.4,194.2 358.6,192.6 357.4,190.4 356.2,188.1 354.1,184.6 352.1,182.9 349.4,182.9 346.6,182.9 343.9,183.0 341.1,183.0 338.4,183.0 335.6,183.0 332.8,183.0 330.1,182.9 327.3,182.9Z" fill="#e8702a" stroke="#e8702a"/><path d="M334.3,213.6 337.6,213.6 340.9,213.6 344.2,213.6 347.4,213.5 350.7,213.5 353.9,213.4 357.2,213.3 360.4,213.3 363.5,213.2 362.3,217.0 364.4,216.9 366.5,216.9 365.1,219.9 364.2,223.7 362.9,224.5 362.0,226.8 361.0,229.1 359.3,231.5 357.6,233.9 357.3,237.1 357.0,240.2 353.8,240.3 350.6,240.4 347.4,240.5 344.1,240.6 340.9,240.7 337.7,240.8 337.7,238.6 337.8,236.5 334.8,235.8 335.0,232.4 335.2,228.9 335.3,225.5 335.5,222.1 335.1,219.3 334.7,216.4 334.3,213.6Z" fill="#e8702a" stroke="#e8702a"/><path d="M337.7,240.8 340.9,240.7 344.1,240.6 347.4,240.5 350.6,240.4 353.8,240.3 357.0,240.2 357.0,242.9 357.0,245.6 355.8,248.4 354.6,251.2 354.0,253.5 353.5,255.8 356.7,255.7 359.9,255.6 363.1,255.5 366.3,255.4 367.1,258.4 367.8,260.3 369.8,261.8 367.8,263.8 368.5,266.1 369.2,268.4 367.0,268.9 364.8,269.3 362.8,269.0 360.8,268.7 358.7,268.3 356.7,267.9 353.3,267.0 350.0,266.0 346.7,265.7 343.5,265.3 341.0,265.7 338.5,266.1 339.3,263.1 339.5,259.2 340.1,256.9 340.7,254.6 339.4,251.9 338.1,249.3 337.5,248.5 337.6,244.6 337.7,240.8Z" fill="#9b1b1f" stroke="#9b1b1f"/><path d="M347.7,135.7 349.9,135.5 352.1,135.3 354.8,134.2 357.2,137.1 358.9,138.9 361.8,139.8 364.6,140.6 366.9,141.3 368.6,142.1 370.3,142.8 372.0,146.2 373.6,148.1 372.4,150.5 371.2,152.9 372.9,150.7 374.5,148.5 376.7,145.6 376.0,148.4 375.3,151.1 375.0,153.7 374.7,156.2 374.3,158.4 373.9,160.5 373.5,164.4 374.4,168.2 371.6,168.3 368.9,168.3 366.1,168.4 363.3,168.5 360.6,168.5 357.8,168.6 355.0,166.7 354.4,163.8 353.9,160.9 353.7,160.2 351.5,157.1 349.4,155.4 347.3,153.6 344.3,151.3 344.8,147.7 344.4,144.8 345.6,142.9 346.8,140.9 346.7,138.6 346.6,136.4 347.7,135.7Z" fill="#c39500" stroke="#c39500"/><path d="M357.8,168.6 360.6,168.5 363.3,168.5 366.1,168.4 368.9,168.3 371.6,168.3 374.4,168.2 375.1,170.4 375.7,172.7 376.6,173.7 377.0,177.4 377.3,181.0 377.6,184.6 378.0,188.2 378.3,191.8 378.2,195.5 377.4,197.6 376.7,199.7 376.2,203.4 375.6,206.0 373.6,208.6 371.8,209.2 370.0,209.8 367.3,207.2 365.5,203.6 363.8,201.4 362.1,199.2 362.2,195.9 360.4,194.2 358.6,192.6 357.4,190.4 356.2,188.1 354.1,184.6 355.8,181.4 356.3,178.8 358.5,176.1 361.0,173.8 359.9,170.4 357.8,168.6Z" fill="#e8702a" stroke="#e8702a"/><path d="M376.6,173.7 378.6,174.7 380.8,173.5 383.7,173.5 386.6,173.5 389.5,173.4 392.4,173.3 392.8,176.6 393.3,179.9 393.7,183.1 394.1,186.4 394.5,189.6 394.8,192.8 393.2,194.4 391.6,196.0 389.5,199.3 388.3,200.0 385.5,202.0 382.4,202.4 380.6,202.3 378.7,202.2 376.2,203.4 376.7,199.7 377.4,197.6 378.2,195.5 378.3,191.8 378.0,188.2 377.6,184.6 377.3,181.0 377.0,177.4 376.6,173.7Z" fill="#e8702a" stroke="#e8702a"/><path d="M392.4,173.3 395.1,173.0 397.7,172.7 400.3,172.4 403.0,173.1 404.9,173.7 406.7,174.2 408.7,173.6 410.6,172.9 412.4,171.3 414.2,169.7 416.7,168.2 417.3,171.6 417.9,174.9 418.6,178.3 418.4,180.4 418.2,182.5 417.8,186.0 416.4,187.4 415.0,188.8 413.1,191.7 411.1,195.0 409.1,198.5 407.6,196.7 406.2,194.8 404.1,195.2 402.0,195.6 400.0,194.7 398.1,193.7 396.5,193.3 394.8,192.8 394.5,189.6 394.1,186.4 393.7,183.1 393.3,179.9 392.8,176.6 392.4,173.3Z" fill="#e8702a" stroke="#e8702a"/><path d="M380.8,173.5 380.8,170.9 380.7,168.2 380.7,165.5 381.0,161.8 381.2,158.0 380.7,154.3 380.3,150.6 381.2,148.2 382.1,145.9 383.7,144.5 385.4,143.1 387.1,141.9 388.7,140.7 390.3,141.3 391.9,141.8 394.5,143.4 397.1,145.0 396.9,147.8 396.7,150.6 396.6,153.4 394.8,155.7 397.3,154.1 399.9,152.4 401.5,155.2 403.2,158.0 403.6,160.3 404.1,162.7 403.4,166.0 402.7,169.3 400.3,172.4 397.7,172.7 395.1,173.0 392.4,173.3 389.5,173.4 386.6,173.5 383.7,173.5 380.8,173.5Z" fill="#e8702a" stroke="#e8702a"/><path d="M357.2,137.1 359.8,135.7 361.7,134.9 363.6,134.0 365.4,132.8 367.3,131.6 368.8,130.8 370.4,130.0 368.7,133.1 370.3,135.8 372.0,135.9 373.6,136.0 375.8,136.1 378.0,136.2 380.7,134.9 383.3,133.5 384.9,133.6 386.5,133.7 389.0,135.8 391.9,137.1 393.1,138.2 390.4,138.8 387.7,139.4 386.1,139.4 384.4,139.3 382.3,140.0 380.1,140.8 378.3,141.5 376.5,142.1 374.7,142.2 374.2,145.2 373.6,148.1 372.0,146.2 370.3,142.8 368.6,142.1 366.9,141.3 364.6,140.6 361.8,139.8 358.9,138.9 357.2,137.1Z" fill="#e8702a" stroke="#e8702a"/><path d="M376.2,203.4 378.7,202.2 380.6,202.3 382.4,202.4 385.5,202.0 388.3,200.0 389.5,199.3 391.6,196.0 393.2,194.4 394.8,192.8 396.5,193.3 398.1,193.7 400.0,194.7 402.0,195.6 404.1,195.2 406.2,194.8 407.6,196.7 409.1,198.5 411.3,201.0 413.5,202.7 411.7,204.7 410.0,206.1 407.1,209.0 405.4,209.9 403.7,210.8 400.7,211.1 397.6,211.3 394.6,211.4 391.6,211.6 388.6,211.7 385.6,211.8 382.6,211.8 379.6,211.9 376.6,211.9 376.7,213.0 373.7,213.1 370.7,213.1 367.6,213.2 368.8,212.4 370.0,209.8 371.8,209.2 373.6,208.6 375.6,206.0 376.2,203.4Z" fill="#e8702a" stroke="#e8702a"/><path d="M367.6,213.2 370.7,213.1 373.7,213.1 376.7,213.0 376.6,211.9 379.6,211.9 382.6,211.8 385.6,211.8 388.6,211.7 391.6,211.6 394.6,211.4 397.6,211.3 400.7,211.1 403.7,210.8 406.8,210.5 409.9,210.2 413.0,209.8 416.1,209.5 415.0,211.8 412.9,213.2 410.8,214.5 407.7,216.7 405.9,217.7 404.0,218.6 401.6,221.1 400.3,223.1 397.6,223.3 395.0,223.5 392.3,223.7 389.6,223.9 386.9,224.0 384.2,224.1 381.5,224.2 378.9,224.2 376.2,224.3 373.6,224.3 370.9,224.4 368.3,224.4 365.6,224.4 362.9,224.5 364.2,223.7 365.1,219.9 366.5,216.9 367.6,213.2Z" fill="#e8702a" stroke="#e8702a"/><path d="M362.9,224.5 365.6,224.4 368.3,224.4 370.9,224.4 373.6,224.3 376.2,224.3 376.2,225.0 376.0,228.9 375.8,232.7 375.5,236.5 375.3,240.4 375.0,244.3 374.7,248.1 374.9,251.9 375.1,255.7 375.4,259.4 373.2,259.5 371.1,259.6 367.8,260.3 367.1,258.4 366.3,255.4 363.1,255.5 359.9,255.6 356.7,255.7 353.5,255.8 354.0,253.5 354.6,251.2 355.8,248.4 357.0,245.6 357.0,242.9 357.0,240.2 357.3,237.1 357.6,233.9 359.3,231.5 361.0,229.1 362.0,226.8 362.9,224.5Z" fill="#9b1b1f" stroke="#9b1b1f"/><path d="M376.2,224.3 378.9,224.2 381.5,224.2 384.2,224.1 386.9,224.0 389.6,223.9 392.3,223.7 392.9,226.9 393.6,230.1 394.2,233.3 394.9,236.5 395.5,239.7 396.3,241.8 397.1,243.8 396.9,246.2 396.4,249.3 396.8,251.6 397.2,253.9 394.4,254.1 391.6,254.3 388.8,254.5 385.9,254.6 383.1,254.7 380.3,254.8 380.8,257.0 381.3,259.2 379.7,260.0 379.0,258.0 378.3,256.0 377.3,259.1 375.4,259.4 375.1,255.7 374.9,251.9 374.7,248.1 375.0,244.3 375.3,240.4 375.5,236.5 375.8,232.7 376.0,228.9 376.2,225.0 376.2,224.3Z" fill="#9b1b1f" stroke="#9b1b1f"/><path d="M400.3,223.1 402.9,222.8 405.5,222.5 408.1,222.2 406.6,224.6 409.9,226.0 411.7,228.0 413.5,229.9 414.9,231.7 416.2,233.5 417.5,235.5 418.8,237.5 420.2,239.4 421.5,241.4 422.8,241.6 421.4,245.3 420.6,248.5 420.0,252.4 416.9,254.7 416.4,255.8 415.3,254.4 412.4,254.7 409.6,255.1 406.7,255.4 403.9,255.6 401.1,255.9 398.2,256.1 397.2,253.9 396.8,251.6 396.4,249.3 396.9,246.2 397.1,243.8 396.3,241.8 395.5,239.7 394.9,236.5 394.2,233.3 393.6,230.1 392.9,226.9 392.3,223.7 395.0,223.5 397.6,223.3 400.3,223.1Z" fill="#e8702a" stroke="#e8702a"/><path d="M420.0,252.4 416.9,254.7 416.4,255.8 415.3,254.4 412.4,254.7 409.6,255.1 406.7,255.4 403.9,255.6 401.1,255.9 398.2,256.1 397.2,253.9 394.4,254.1 391.6,254.3 388.8,254.5 385.9,254.6 383.1,254.7 380.3,254.8 380.8,257.0 381.3,259.2 383.8,259.1 386.4,259.1 388.9,259.0 390.9,259.9 392.9,260.7 395.0,263.2 397.7,264.1 400.8,261.5 403.4,260.4 406.0,261.1 407.8,263.2 409.6,265.2 412.5,267.2 413.2,269.4 413.9,271.6 414.0,274.4 414.1,277.1 415.4,279.6 416.7,282.2 420.3,285.6 421.4,287.8 422.5,290.0 426.4,293.3 428.7,294.9 432.1,293.6 433.3,289.5 433.2,286.6 433.2,283.6 432.5,281.0 431.8,278.3 430.5,275.2 429.2,272.2 427.9,269.1 426.0,266.4 424.2,263.7 422.7,260.8 421.2,257.9 420.6,255.1 420.0,252.4Z" fill="#e8702a" stroke="#e8702a"/><path d="M408.1,222.2 410.6,221.2 413.1,220.1 415.8,219.9 418.5,219.7 421.1,219.4 421.9,220.4 422.9,221.6 425.4,221.3 427.8,221.0 430.2,220.7 432.8,222.6 435.5,224.5 438.1,226.4 436.5,228.2 434.7,229.9 432.2,233.4 428.8,236.4 425.5,239.0 422.8,241.6 421.5,241.4 420.2,239.4 418.8,237.5 417.5,235.5 416.2,233.5 414.9,231.7 413.5,229.9 411.7,228.0 409.9,226.0 406.6,224.6 408.1,222.2Z" fill="#e8702a" stroke="#e8702a"/><path d="M449.9,202.5 447.3,203.3 444.6,204.0 442.0,204.8 439.3,205.4 436.5,206.1 433.8,206.7 430.9,207.2 428.0,207.7 425.1,208.2 422.1,208.7 419.1,209.1 416.1,209.5 415.0,211.8 412.9,213.2 410.8,214.5 407.7,216.7 405.9,217.7 404.0,218.6 401.6,221.1 400.3,223.1 402.9,222.8 405.5,222.5 408.1,222.2 410.6,221.2 413.1,220.1 415.8,219.9 418.5,219.7 421.1,219.4 421.9,220.4 422.9,221.6 425.4,221.3 427.8,221.0 430.2,220.7 432.8,222.6 435.5,224.5 438.1,226.4 439.8,226.1 441.5,225.8 442.5,222.2 443.9,220.7 445.3,219.2 446.9,218.4 448.4,217.6 450.5,213.9 453.0,211.9 452.4,209.9 451.9,207.9 450.9,205.2 449.9,202.5Z" fill="#e8702a" stroke="#e8702a"/><path d="M403.7,210.8 405.4,209.9 407.1,209.0 410.0,206.1 411.7,204.7 413.5,202.7 416.7,204.5 418.6,203.8 420.5,203.1 422.1,202.3 423.7,201.5 425.1,198.2 425.7,195.4 426.3,192.6 428.5,193.3 430.3,189.0 432.8,186.4 434.5,186.1 436.2,185.8 436.5,184.3 438.2,184.8 440.3,186.1 441.0,187.1 440.7,190.4 442.3,191.5 444.7,191.6 447.0,191.8 446.5,194.6 447.8,197.1 449.1,199.7 449.9,202.5 447.3,203.3 444.6,204.0 442.0,204.8 439.3,205.4 436.5,206.1 433.8,206.7 430.9,207.2 428.0,207.7 425.1,208.2 422.1,208.7 419.1,209.1 416.1,209.5 413.0,209.8 409.9,210.2 406.8,210.5 403.7,210.8Z" fill="#e8702a" stroke="#e8702a"/><path d="M409.1,198.5 411.1,195.0 413.1,191.7 415.0,188.8 416.4,187.4 417.8,186.0 418.2,182.5 418.4,180.4 418.6,178.3 419.2,181.7 419.8,185.2 421.8,184.8 423.8,184.4 425.9,183.9 426.2,185.9 426.5,187.9 428.4,185.9 430.2,183.8 431.8,183.2 433.3,182.6 436.5,184.3 436.2,185.8 434.5,186.1 432.8,186.4 430.3,189.0 428.5,193.3 426.3,192.6 425.7,195.4 425.1,198.2 423.7,201.5 422.1,202.3 420.5,203.1 418.6,203.8 416.7,204.5 413.5,202.7 411.3,201.0 409.1,198.5Z" fill="#e8702a" stroke="#e8702a"/><path d="M425.9,183.9 428.5,183.3 431.2,182.7 433.8,181.9 436.5,181.1 439.1,180.3 441.6,179.4 444.2,178.4 446.8,177.4 447.9,180.3 449.0,183.3 450.0,186.4 452.3,186.0 454.5,185.6 455.4,188.5 452.7,189.5 450.1,190.6 449.2,188.5 448.7,185.6 448.2,182.8 446.4,180.5 446.0,184.7 446.2,187.1 446.3,189.6 447.0,191.8 444.7,191.6 442.3,191.5 440.7,190.4 441.0,187.1 440.3,186.1 438.2,184.8 436.5,184.3 433.3,182.6 431.8,183.2 430.2,183.8 428.4,185.9 426.5,187.9 426.2,185.9 425.9,183.9Z" fill="#e8702a" stroke="#e8702a"/><path d="M450.1,190.6 452.7,189.5 455.4,188.5 454.2,191.6 452.6,192.5 450.9,193.4 450.1,190.6Z" fill="#e8702a" stroke="#e8702a"/><path d="M446.8,177.4 447.6,176.2 448.8,176.0 450.5,178.5 452.4,181.3 453.7,183.8 454.5,185.6 452.3,186.0 450.0,186.4 449.0,183.3 447.9,180.3 446.8,177.4Z" fill="#e8702a" stroke="#e8702a"/><path d="M416.7,168.2 418.7,166.7 420.6,165.2 421.0,167.2 423.7,166.6 426.5,165.9 429.2,165.2 432.0,164.5 434.7,163.7 437.4,162.9 440.1,162.1 442.8,161.3 445.4,160.5 447.1,161.1 450.1,163.9 448.6,167.4 448.6,170.0 450.5,171.7 451.9,172.3 450.2,174.4 448.8,176.0 447.6,176.2 446.8,177.4 444.2,178.4 441.6,179.4 439.1,180.3 436.5,181.1 433.8,181.9 431.2,182.7 428.5,183.3 425.9,183.9 423.8,184.4 421.8,184.8 419.8,185.2 419.2,181.7 418.6,178.3 417.9,174.9 417.3,171.6 416.7,168.2Z" fill="#e8702a" stroke="#e8702a"/><path d="M450.1,163.9 452.6,164.5 455.0,165.1 454.9,167.3 454.0,169.3 455.4,169.4 455.8,171.5 456.1,173.6 454.9,177.4 453.7,179.4 452.5,181.5 451.8,179.6 448.9,177.9 448.8,176.0 450.2,174.4 451.9,172.3 450.5,171.7 448.6,170.0 448.6,167.4 450.1,163.9Z" fill="#c39500" stroke="#c39500"/><path d="M451.0,136.2 448.7,136.8 446.3,137.5 444.0,138.1 442.4,140.0 440.7,142.0 439.1,144.0 437.9,145.4 436.6,146.9 437.5,148.8 438.3,150.7 436.4,152.3 434.4,153.9 431.6,154.4 428.8,154.8 426.9,155.5 425.1,156.2 423.2,156.9 424.5,159.4 422.6,162.3 420.6,165.2 421.0,167.2 423.7,166.6 426.5,165.9 429.2,165.2 432.0,164.5 434.7,163.7 437.4,162.9 440.1,162.1 442.8,161.3 445.4,160.5 447.1,161.1 450.1,163.9 452.6,164.5 455.0,165.1 454.9,167.3 455.1,168.0 457.8,167.2 460.3,165.6 462.8,164.1 464.2,163.0 465.7,161.9 463.8,162.6 462.0,163.4 459.7,164.3 457.3,165.2 456.3,164.7 456.6,162.4 456.0,159.8 455.3,157.3 455.3,154.7 455.3,152.1 454.6,149.1 453.9,146.1 452.4,143.5 452.0,141.1 451.5,138.7 451.0,136.2Z" fill="#c39500" stroke="#c39500"/><path d="M455.3,157.3 457.6,156.7 459.9,156.1 462.2,155.6 464.5,155.1 465.0,157.5 465.4,160.0 463.1,160.9 461.3,161.6 459.5,162.4 457.9,163.5 456.3,164.7 456.6,162.4 456.0,159.8 455.3,157.3Z" fill="#c39500" stroke="#c39500"/><path d="M464.5,155.1 466.7,154.5 467.9,156.1 469.1,157.7 467.2,158.9 465.4,160.0 465.0,157.5 464.5,155.1Z" fill="#c39500" stroke="#c39500"/><path d="M459.7,151.1 457.5,151.6 455.3,152.1 455.3,154.7 455.3,157.3 457.6,156.7 459.9,156.1 462.2,155.6 464.5,155.1 466.7,154.5 467.9,156.1 469.1,157.7 471.5,156.8 473.2,156.0 474.9,155.2 474.7,153.4 473.8,152.5 472.9,153.5 471.6,154.9 469.6,151.7 468.5,149.8 468.2,147.9 466.1,149.4 463.9,149.9 461.8,150.5 459.7,151.1Z" fill="#c39500" stroke="#c39500"/><path d="M451.0,136.2 453.4,135.6 455.7,135.0 458.1,134.4 460.5,133.8 460.5,136.1 459.2,139.5 459.2,141.8 459.2,144.0 459.1,147.8 459.7,151.1 457.5,151.6 455.3,152.1 454.6,149.1 453.9,146.1 452.4,143.5 452.0,141.1 451.5,138.7 451.0,136.2Z" fill="#c39500" stroke="#c39500"/><path d="M460.5,133.8 462.0,131.2 462.9,134.0 463.8,136.8 464.6,139.3 465.5,141.7 466.9,144.0 468.4,146.3 468.2,147.9 466.1,149.4 463.9,149.9 461.8,150.5 459.7,151.1 459.1,147.8 459.2,144.0 459.2,141.8 459.2,139.5 460.5,136.1 460.5,133.8Z" fill="#2e9e78" stroke="#2e9e78"/><path d="M468.4,146.3 469.0,144.2 469.5,142.1 471.8,140.1 473.7,138.5 475.6,136.9 477.3,135.7 479.0,134.5 481.0,133.2 483.0,131.9 484.2,130.4 485.4,128.8 483.4,126.7 481.3,124.6 479.1,123.6 478.2,120.2 477.4,116.8 476.6,113.4 475.0,112.8 473.4,112.1 472.0,113.1 470.5,114.0 468.4,112.6 467.0,115.9 465.6,119.3 465.3,122.1 465.1,124.9 464.2,128.3 462.0,131.2 462.9,134.0 463.8,136.8 464.6,139.3 465.5,141.7 466.9,144.0 468.4,146.3Z" fill="#c39500" stroke="#c39500"/><path d="M440.2,185.5 h1.6 v1.6 h-1.6 Z" fill="#9b1b1f" stroke="#9b1b1f"/><path d="M182.4,261.2 L188.4,258.2 L197.3,256.7 L204.8,262 L213.8,265 L213.0,294.9 L217.7,298.4 L221.7,299.4 L227.7,305.4 L232.2,311.2 L229,313 L223.7,308.4 L217.7,304.3 L211.7,300.4 L204.8,296.6 L199.8,295.3 L194.3,293.2 L192.6,292.4 L191.3,296 L189.4,299.4 L185.8,300.6 L180,302.8 L171.8,305 L175.6,301.6 L180.9,296.3 L175.6,293.4 L173.4,287.4 L174.9,282.1 L180.0,279.5 L177.1,273.9 L176.4,268.7 L183.1,269.4 L184.6,266.4 Z M168.2,272.2 L171.2,274.2 L170.2,275 L167.8,273 Z M169,285.4 L171,285.8 L170.6,287 L168.6,286.6 Z M160.8,278.5 L162,279.2 L161.6,280.2 L160.4,279.6 Z M158.6,290 L160.6,290.3 L160.4,291.2 L158.4,290.9 Z M184.2,302.6 L188.6,300 L190.4,300.6 L186,303.4 Z" fill="#e8702a"/><path d="M362,285.5 L365,285.3 L365.5,287.8 L362.5,288.2 Z M357.5,287.5 L359,287 L358.8,289 L357.6,288.8 Z M375,291 L378,291.5 L378.5,293.5 L376,294 Z M382.5,295 L387,295.3 L386.5,296.5 L382.5,296.2 Z M388.5,296.5 L392,297.5 L393,299.3 L389.5,299 Z M384.6,297.4 L385.8,297.4 L385.8,298.6 L384.6,298.6 Z M387.4,299.6 L388.6,299.6 L388.6,300.6 L387.4,300.6 Z M394.8,303 L400,305 L404,310 L396.5,315 L393,309 Z" fill="#c39500"/></g>
<g stroke="rgba(250,225,170,0.3)" stroke-width="0.6" stroke-linejoin="round" fill="none"><path d="M176.2,114.2 176.6,111.5 177.5,108.5 177.9,105.7 178.2,103.0 178.3,100.2 178.3,97.4 179.6,98.6 180.9,99.8 183.4,101.0 185.8,102.1 185.9,105.6 185.0,107.5 184.1,109.5 186.9,109.2 188.1,106.7 189.3,104.3 189.5,101.9 189.6,99.5 190.0,96.4 192.4,97.2 194.8,97.9 197.2,98.7 199.7,99.4 202.1,100.2 204.6,100.9 207.0,101.6 209.5,102.3 211.9,102.9 214.4,103.6 216.8,104.2 219.3,104.8 218.3,108.0 217.4,111.2 216.4,114.3 215.4,117.5 214.4,120.7 213.3,123.9 213.0,127.1 210.8,126.6 208.5,126.0 206.3,125.4 204.0,124.8 201.8,124.2 199.9,124.3 198.2,124.1 196.5,123.9 194.4,123.7 192.4,123.6 190.7,123.4 189.0,123.3 187.4,122.6 185.9,121.9 182.8,122.2 180.7,120.7 180.9,117.9 180.3,116.4 178.5,115.0 176.2,114.2Z"/><path d="M162.9,144.5 163.0,141.2 163.4,137.8 165.4,134.7 167.6,132.2 169.0,129.4 170.4,126.6 172.3,123.2 173.3,121.0 174.3,118.9 175.2,116.5 176.2,114.2 178.5,115.0 180.3,116.4 180.9,117.9 180.7,120.7 182.8,122.2 185.9,121.9 187.4,122.6 189.0,123.3 190.7,123.4 192.4,123.6 194.4,123.7 196.5,123.9 198.2,124.1 199.9,124.3 201.8,124.2 204.0,124.8 206.3,125.4 208.5,126.0 210.8,126.6 213.0,127.1 213.7,130.5 214.2,131.8 211.9,134.8 209.5,136.7 207.4,139.4 207.2,143.3 206.2,146.6 205.2,150.0 204.3,153.3 203.4,156.6 200.5,155.9 197.6,155.1 194.7,154.4 191.8,153.6 189.0,152.8 186.2,152.0 183.5,151.2 180.9,150.4 178.3,149.6 175.7,148.8 173.1,148.0 170.6,147.1 168.0,146.2 165.5,145.4 162.9,144.5Z"/><path d="M187.1,225.1 186.8,221.5 185.3,218.1 182.7,214.8 180.8,214.0 180.4,212.1 178.0,211.5 175.9,210.0 174.1,207.6 171.5,206.7 168.8,205.8 168.0,204.4 168.4,202.4 168.9,200.4 167.9,197.8 166.1,194.6 164.7,192.2 163.4,189.9 163.6,187.6 165.0,186.5 163.7,184.9 162.3,182.1 162.7,178.4 163.0,176.9 160.3,175.6 160.4,173.3 159.3,170.4 158.3,167.4 158.9,164.2 159.5,161.0 157.7,156.8 157.9,155.3 159.5,153.6 161.0,151.9 161.6,149.1 162.3,146.3 162.9,144.5 165.5,145.4 168.0,146.2 170.6,147.1 173.1,148.0 175.7,148.8 178.3,149.6 180.9,150.4 183.5,151.2 186.2,152.0 185.0,155.6 184.0,159.3 183.0,162.9 182.0,166.6 181.0,170.2 180.0,173.8 182.3,177.3 184.6,180.7 186.9,184.1 189.3,187.5 191.7,190.9 194.2,194.3 196.7,197.7 199.2,201.0 201.8,204.4 204.4,207.7 207.0,211.0 207.1,213.7 207.3,216.3 209.2,217.0 207.2,217.8 205.8,220.1 204.3,222.5 205.0,225.6 203.2,227.3 200.0,226.9 196.8,226.5 193.5,226.1 190.3,225.6 187.1,225.1Z"/><path d="M186.2,152.0 189.0,152.8 191.8,153.6 194.7,154.4 197.6,155.1 200.5,155.9 203.4,156.6 206.3,157.3 209.2,158.0 212.2,158.7 215.1,159.3 218.1,160.0 221.0,160.6 220.2,164.3 219.4,167.9 218.6,171.6 217.9,175.3 217.1,179.0 216.4,182.7 215.6,186.4 214.9,190.0 214.2,193.7 213.5,197.3 212.9,200.2 212.4,203.1 210.1,203.4 207.9,203.7 207.9,207.5 207.0,211.0 204.4,207.7 201.8,204.4 199.2,201.0 196.7,197.7 194.2,194.3 191.7,190.9 189.3,187.5 186.9,184.1 184.6,180.7 182.3,177.3 180.0,173.8 181.0,170.2 182.0,166.6 183.0,162.9 184.0,159.3 185.0,155.6 186.2,152.0Z"/><path d="M219.3,104.8 218.3,108.0 217.4,111.2 216.4,114.3 215.4,117.5 214.4,120.7 213.3,123.9 213.0,127.1 213.7,130.5 214.2,131.8 211.9,134.8 209.5,136.7 207.4,139.4 207.2,143.3 206.2,146.6 205.2,150.0 204.3,153.3 203.4,156.6 206.3,157.3 209.2,158.0 212.2,158.7 215.1,159.3 218.1,160.0 221.0,160.6 224.0,161.1 227.1,161.7 230.1,162.2 233.1,162.7 236.0,163.2 239.0,163.8 239.6,160.0 240.4,156.2 241.1,152.4 241.9,148.6 242.7,144.8 241.1,142.8 238.4,143.0 235.8,143.3 233.7,143.3 231.6,143.3 229.8,139.7 229.2,136.3 228.7,132.9 226.9,133.1 225.1,133.3 227.1,130.2 227.4,127.8 227.7,125.4 226.2,124.1 224.5,119.8 222.8,117.1 223.4,115.6 222.2,113.4 223.3,109.7 224.3,106.0 221.8,105.4 219.3,104.8Z"/><path d="M224.3,106.0 226.9,106.6 229.4,107.1 232.0,107.7 234.5,108.2 237.1,108.7 239.6,109.1 242.2,109.6 244.7,110.0 247.3,110.5 249.8,110.9 252.3,111.3 254.9,111.6 257.4,112.0 259.9,112.4 262.5,112.7 265.0,113.0 267.5,113.3 270.0,113.6 272.6,113.9 275.1,114.2 277.6,114.4 280.1,114.7 282.7,114.9 285.2,115.2 284.8,118.5 284.4,121.7 283.9,125.0 283.5,128.4 283.1,131.7 282.7,135.0 282.3,138.4 281.9,142.0 281.4,145.6 278.7,145.4 276.0,145.1 273.3,144.9 270.6,144.6 267.9,144.3 265.2,144.0 262.5,143.7 259.8,143.4 257.1,143.0 254.4,142.7 251.7,142.3 249.0,141.9 246.3,141.5 243.5,141.0 242.7,144.8 241.1,142.8 238.4,143.0 235.8,143.3 233.7,143.3 231.6,143.3 229.8,139.7 229.2,136.3 228.7,132.9 226.9,133.1 225.1,133.3 227.1,130.2 227.4,127.8 227.7,125.4 226.2,124.1 224.5,119.8 222.8,117.1 223.4,115.6 222.2,113.4 223.3,109.7 224.3,106.0Z"/><path d="M242.7,144.8 243.5,141.0 246.3,141.5 249.0,141.9 251.7,142.3 254.4,142.7 257.1,143.0 259.8,143.4 262.5,143.7 265.2,144.0 267.9,144.3 270.6,144.6 273.3,144.9 276.0,145.1 278.7,145.4 281.4,145.6 281.0,149.5 280.5,153.5 280.0,157.4 279.6,161.3 279.1,165.3 278.7,169.2 278.2,173.1 277.8,177.0 274.9,176.7 272.0,176.5 269.1,176.2 266.2,175.9 263.4,175.6 260.5,175.2 257.6,174.9 254.8,174.5 251.9,174.1 249.1,173.6 246.2,173.0 243.4,172.5 240.5,171.9 237.6,171.3 238.3,167.5 239.0,163.8 239.6,160.0 240.4,156.2 241.1,152.4 241.9,148.6 242.7,144.8Z"/><path d="M221.0,160.6 224.0,161.1 227.1,161.7 230.1,162.2 233.1,162.7 236.0,163.2 239.0,163.8 238.3,167.5 237.6,171.3 240.5,171.9 243.4,172.5 246.2,173.0 249.1,173.6 248.5,177.4 247.8,181.1 247.2,184.9 246.6,188.6 246.0,192.4 245.5,196.1 244.9,199.8 244.4,203.5 241.3,202.9 238.3,202.3 235.2,201.8 232.2,201.2 229.1,200.6 226.0,199.9 222.9,199.3 219.7,198.7 216.6,198.0 213.5,197.3 214.2,193.7 214.9,190.0 215.6,186.4 216.4,182.7 217.1,179.0 217.9,175.3 218.6,171.6 219.4,167.9 220.2,164.3 221.0,160.6Z"/><path d="M249.1,173.6 251.9,174.1 254.8,174.5 257.6,174.9 260.5,175.2 263.4,175.6 266.2,175.9 269.1,176.2 272.0,176.5 274.9,176.7 277.8,177.0 280.7,177.2 283.6,177.4 286.5,177.6 289.4,177.8 289.1,181.6 288.8,185.5 288.4,189.3 288.1,193.0 287.8,196.8 287.5,200.6 287.2,204.3 286.9,208.1 283.9,208.0 280.9,208.0 278.0,207.8 275.1,207.6 272.3,207.3 269.5,207.1 266.7,206.7 263.9,206.4 261.1,206.0 258.3,205.7 255.5,205.3 252.7,204.8 250.0,204.4 247.2,203.9 244.4,203.5 244.9,199.8 245.5,196.1 246.0,192.4 246.6,188.6 247.2,184.9 247.8,181.1 248.5,177.4 249.1,173.6Z"/><path d="M213.5,197.3 216.6,198.0 219.7,198.7 222.9,199.3 226.0,199.9 229.1,200.6 232.2,201.2 235.2,201.8 238.3,202.3 241.3,202.9 244.4,203.5 243.9,206.9 243.4,210.3 242.9,213.7 242.4,217.1 242.0,220.5 241.5,223.9 241.1,227.3 240.6,230.7 240.2,234.1 239.8,237.5 239.3,240.9 238.9,244.3 236.2,243.8 233.6,243.4 230.9,243.0 228.3,242.5 225.6,242.0 222.6,240.4 219.7,238.8 216.8,237.2 213.9,235.5 210.9,233.9 208.0,232.2 205.1,230.5 202.2,228.8 203.2,227.3 205.0,225.6 204.3,222.5 205.8,220.1 207.2,217.8 209.2,217.0 207.3,216.3 207.1,213.7 207.0,211.0 207.9,207.5 207.9,203.7 210.1,203.4 212.4,203.1 212.9,200.2 213.5,197.3Z"/><path d="M244.4,203.5 247.2,203.9 250.0,204.4 252.7,204.8 255.5,205.3 258.3,205.7 261.1,206.0 263.9,206.4 266.7,206.7 269.5,207.1 272.3,207.3 275.1,207.6 278.0,207.8 280.9,208.0 280.6,211.7 280.2,215.4 279.9,219.1 279.6,222.8 279.2,226.5 278.9,230.2 278.5,233.9 278.2,237.6 277.9,241.2 277.5,244.9 274.6,244.6 271.8,244.2 268.9,243.9 266.1,243.5 263.3,243.1 260.5,242.8 257.7,242.3 254.9,241.9 255.4,243.6 252.8,243.2 250.1,242.8 247.4,242.4 244.7,241.9 244.3,245.2 241.6,244.7 238.9,244.3 239.3,240.9 239.8,237.5 240.2,234.1 240.6,230.7 241.1,227.3 241.5,223.9 242.0,220.5 242.4,217.1 242.9,213.7 243.4,210.3 243.9,206.9 244.4,203.5Z"/><path d="M285.2,115.2 287.7,115.4 290.1,115.6 292.6,115.8 295.1,116.0 297.6,116.2 300.1,116.4 302.6,116.6 305.1,116.7 307.6,116.9 310.1,117.0 312.6,117.2 315.1,117.3 317.6,117.4 320.2,117.6 320.4,120.6 320.5,123.7 321.1,126.0 321.7,128.3 321.7,130.6 321.8,132.9 322.2,135.4 322.7,138.0 322.9,141.2 320.1,141.1 317.4,140.9 314.6,140.8 311.9,140.7 309.2,140.5 306.5,140.3 303.8,140.2 301.1,140.0 298.4,139.8 295.7,139.5 293.0,139.3 290.3,139.1 287.6,138.8 285.0,138.6 282.3,138.4 282.7,135.0 283.1,131.7 283.5,128.4 283.9,125.0 284.4,121.7 284.8,118.5 285.2,115.2Z"/><path d="M282.3,138.4 281.9,142.0 281.4,145.6 281.0,149.5 280.5,153.5 280.0,157.4 279.6,161.3 282.2,161.6 284.8,161.8 287.4,162.0 290.0,162.2 292.7,162.4 295.3,162.6 298.0,162.8 300.7,163.0 303.4,163.2 306.0,163.4 308.7,163.6 311.5,163.8 313.2,164.7 314.9,165.6 317.0,165.5 319.1,165.4 322.0,166.7 323.5,168.4 323.0,166.4 322.6,164.5 323.5,160.6 323.5,157.1 323.5,153.5 323.5,149.9 323.5,146.3 323.2,143.7 322.9,141.2 320.1,141.1 317.4,140.9 314.6,140.8 311.9,140.7 309.2,140.5 306.5,140.3 303.8,140.2 301.1,140.0 298.4,139.8 295.7,139.5 293.0,139.3 290.3,139.1 287.6,138.8 285.0,138.6 282.3,138.4Z"/><path d="M277.8,177.0 278.2,173.1 278.7,169.2 279.1,165.3 279.6,161.3 282.2,161.6 284.8,161.8 287.4,162.0 290.0,162.2 292.7,162.4 295.3,162.6 298.0,162.8 300.7,163.0 303.4,163.2 306.0,163.4 308.7,163.6 311.5,163.8 313.2,164.7 314.9,165.6 317.0,165.5 319.1,165.4 322.0,166.7 323.5,168.4 324.0,169.1 325.5,172.2 325.7,175.6 326.9,178.2 327.1,180.6 327.3,182.9 328.7,185.1 330.2,187.3 327.2,187.2 324.2,187.1 321.2,187.0 318.2,186.9 315.2,186.8 312.2,186.6 309.3,186.5 306.3,186.4 303.4,186.2 300.4,186.1 297.5,185.9 294.6,185.8 291.7,185.6 288.8,185.5 289.1,181.6 289.4,177.8 286.5,177.6 283.6,177.4 280.7,177.2 277.8,177.0Z"/><path d="M288.8,185.5 291.7,185.6 294.6,185.8 297.5,185.9 300.4,186.1 303.4,186.2 306.3,186.4 309.3,186.5 312.2,186.6 315.2,186.8 318.2,186.9 321.2,187.0 324.2,187.1 327.2,187.2 330.2,187.3 332.0,188.8 332.7,190.7 334.5,194.1 334.5,197.2 334.4,200.3 334.4,203.5 334.4,206.6 334.4,209.8 331.1,209.8 327.9,209.7 324.6,209.7 321.4,209.6 318.1,209.4 314.9,209.3 311.7,209.2 308.5,209.0 305.3,208.8 302.2,208.7 299.1,208.5 296.0,208.4 293.0,208.3 290.0,208.2 286.9,208.1 287.2,204.3 287.5,200.6 287.8,196.8 288.1,193.0 288.4,189.3 288.8,185.5Z"/><path d="M286.9,208.1 290.0,208.2 293.0,208.3 296.0,208.4 299.1,208.5 302.2,208.7 305.3,208.8 308.5,209.0 311.7,209.2 314.9,209.3 318.1,209.4 321.4,209.6 324.6,209.7 327.9,209.7 331.1,209.8 334.4,209.8 334.3,213.6 334.7,216.4 335.1,219.3 335.5,222.1 335.3,225.5 335.2,228.9 335.0,232.4 334.8,235.8 332.1,234.9 329.4,233.9 327.4,234.0 325.4,234.1 323.0,234.1 320.7,234.0 317.4,234.8 314.7,233.4 311.5,232.5 308.2,231.3 306.0,230.6 303.7,229.9 300.5,229.0 298.6,227.6 298.8,223.8 298.9,220.0 299.1,216.1 299.3,212.4 296.2,212.2 293.1,212.1 290.0,212.0 286.9,211.9 283.7,211.8 280.6,211.7 280.9,208.0 283.9,208.0 286.9,208.1Z"/><path d="M280.6,211.7 280.2,215.4 279.9,219.1 279.6,222.8 279.2,226.5 278.9,230.2 278.5,233.9 278.2,237.6 277.9,241.2 277.5,244.9 274.6,244.6 271.8,244.2 268.9,243.9 266.1,243.5 263.3,243.1 260.5,242.8 257.7,242.3 254.9,241.9 255.4,243.6 257.1,246.3 258.8,248.1 260.6,249.8 262.3,251.6 264.1,253.3 265.1,255.9 266.2,258.5 267.2,262.1 270.3,264.4 272.2,265.8 274.1,267.2 276.5,266.3 277.5,264.4 278.5,262.4 281.2,261.4 284.2,262.1 287.2,262.9 290.0,266.4 292.0,269.8 294.0,273.2 295.2,276.0 296.5,278.8 299.1,281.3 300.0,283.8 300.9,286.4 302.9,288.8 304.8,291.3 307.3,292.2 309.7,293.1 312.3,293.6 314.9,294.2 314.1,292.0 313.3,289.9 313.6,286.5 313.9,283.1 316.4,279.4 319.3,276.5 321.7,275.3 324.2,274.0 327.3,272.0 330.5,269.9 333.2,267.7 335.3,267.0 337.4,266.3 338.5,266.1 339.3,263.1 339.5,259.2 340.1,256.9 340.7,254.6 339.4,251.9 338.1,249.3 337.5,248.5 337.6,244.6 337.7,240.8 337.7,238.6 337.8,236.5 334.8,235.8 332.1,234.9 329.4,233.9 327.4,234.0 325.4,234.1 323.0,234.1 320.7,234.0 317.4,234.8 314.7,233.4 311.5,232.5 308.2,231.3 306.0,230.6 303.7,229.9 300.5,229.0 298.6,227.6 298.8,223.8 298.9,220.0 299.1,216.1 299.3,212.4 296.2,212.2 293.1,212.1 290.0,212.0 286.9,211.9 283.7,211.8 280.6,211.7Z"/><path d="M320.2,117.6 322.3,117.7 324.5,117.8 326.7,117.8 328.9,117.9 331.1,118.0 331.2,115.1 332.9,115.6 333.4,117.9 334.0,120.2 336.1,121.1 338.2,121.9 340.3,121.6 342.5,121.4 345.2,122.4 347.9,123.3 350.6,123.9 353.3,124.5 356.0,124.9 358.7,125.2 361.5,126.0 359.5,126.9 357.6,127.8 355.6,128.7 353.0,130.5 350.3,132.2 347.7,135.7 346.6,136.4 346.7,138.6 346.8,140.9 345.6,142.9 344.4,144.8 344.8,147.7 344.3,151.3 347.3,153.6 349.4,155.4 351.5,157.1 353.7,160.2 353.9,160.9 351.2,161.0 348.4,161.0 345.6,161.0 342.9,161.0 340.1,161.0 337.3,160.9 334.6,160.9 331.8,160.9 329.1,160.8 326.3,160.7 323.5,160.6 323.5,157.1 323.5,153.5 323.5,149.9 323.5,146.3 323.2,143.7 322.9,141.2 322.7,138.0 322.2,135.4 321.8,132.9 321.7,130.6 321.7,128.3 321.1,126.0 320.5,123.7 320.4,120.6 320.2,117.6Z"/><path d="M323.5,160.6 326.3,160.7 329.1,160.8 331.8,160.9 334.6,160.9 337.3,160.9 340.1,161.0 342.9,161.0 345.6,161.0 348.4,161.0 351.2,161.0 353.9,160.9 354.4,163.8 355.0,166.7 357.8,168.6 359.9,170.4 361.0,173.8 358.5,176.1 356.3,178.8 355.8,181.4 354.1,184.6 352.1,182.9 349.4,182.9 346.6,182.9 343.9,183.0 341.1,183.0 338.4,183.0 335.6,183.0 332.8,183.0 330.1,182.9 327.3,182.9 327.1,180.6 326.9,178.2 325.7,175.6 325.5,172.2 324.0,169.1 323.5,168.4 323.0,166.4 322.6,164.5 323.5,160.6Z"/><path d="M327.3,182.9 328.7,185.1 330.2,187.3 332.0,188.8 332.7,190.7 334.5,194.1 334.5,197.2 334.4,200.3 334.4,203.5 334.4,206.6 334.4,209.8 334.3,213.6 337.6,213.6 340.9,213.6 344.2,213.6 347.4,213.5 350.7,213.5 353.9,213.4 357.2,213.3 360.4,213.3 363.5,213.2 362.3,217.0 364.4,216.9 366.5,216.9 367.6,213.2 368.8,212.4 370.0,209.8 367.3,207.2 365.5,203.6 363.8,201.4 362.1,199.2 362.2,195.9 360.4,194.2 358.6,192.6 357.4,190.4 356.2,188.1 354.1,184.6 352.1,182.9 349.4,182.9 346.6,182.9 343.9,183.0 341.1,183.0 338.4,183.0 335.6,183.0 332.8,183.0 330.1,182.9 327.3,182.9Z"/><path d="M334.3,213.6 337.6,213.6 340.9,213.6 344.2,213.6 347.4,213.5 350.7,213.5 353.9,213.4 357.2,213.3 360.4,213.3 363.5,213.2 362.3,217.0 364.4,216.9 366.5,216.9 365.1,219.9 364.2,223.7 362.9,224.5 362.0,226.8 361.0,229.1 359.3,231.5 357.6,233.9 357.3,237.1 357.0,240.2 353.8,240.3 350.6,240.4 347.4,240.5 344.1,240.6 340.9,240.7 337.7,240.8 337.7,238.6 337.8,236.5 334.8,235.8 335.0,232.4 335.2,228.9 335.3,225.5 335.5,222.1 335.1,219.3 334.7,216.4 334.3,213.6Z"/><path d="M337.7,240.8 340.9,240.7 344.1,240.6 347.4,240.5 350.6,240.4 353.8,240.3 357.0,240.2 357.0,242.9 357.0,245.6 355.8,248.4 354.6,251.2 354.0,253.5 353.5,255.8 356.7,255.7 359.9,255.6 363.1,255.5 366.3,255.4 367.1,258.4 367.8,260.3 369.8,261.8 367.8,263.8 368.5,266.1 369.2,268.4 367.0,268.9 364.8,269.3 362.8,269.0 360.8,268.7 358.7,268.3 356.7,267.9 353.3,267.0 350.0,266.0 346.7,265.7 343.5,265.3 341.0,265.7 338.5,266.1 339.3,263.1 339.5,259.2 340.1,256.9 340.7,254.6 339.4,251.9 338.1,249.3 337.5,248.5 337.6,244.6 337.7,240.8Z"/><path d="M347.7,135.7 349.9,135.5 352.1,135.3 354.8,134.2 357.2,137.1 358.9,138.9 361.8,139.8 364.6,140.6 366.9,141.3 368.6,142.1 370.3,142.8 372.0,146.2 373.6,148.1 372.4,150.5 371.2,152.9 372.9,150.7 374.5,148.5 376.7,145.6 376.0,148.4 375.3,151.1 375.0,153.7 374.7,156.2 374.3,158.4 373.9,160.5 373.5,164.4 374.4,168.2 371.6,168.3 368.9,168.3 366.1,168.4 363.3,168.5 360.6,168.5 357.8,168.6 355.0,166.7 354.4,163.8 353.9,160.9 353.7,160.2 351.5,157.1 349.4,155.4 347.3,153.6 344.3,151.3 344.8,147.7 344.4,144.8 345.6,142.9 346.8,140.9 346.7,138.6 346.6,136.4 347.7,135.7Z"/><path d="M357.8,168.6 360.6,168.5 363.3,168.5 366.1,168.4 368.9,168.3 371.6,168.3 374.4,168.2 375.1,170.4 375.7,172.7 376.6,173.7 377.0,177.4 377.3,181.0 377.6,184.6 378.0,188.2 378.3,191.8 378.2,195.5 377.4,197.6 376.7,199.7 376.2,203.4 375.6,206.0 373.6,208.6 371.8,209.2 370.0,209.8 367.3,207.2 365.5,203.6 363.8,201.4 362.1,199.2 362.2,195.9 360.4,194.2 358.6,192.6 357.4,190.4 356.2,188.1 354.1,184.6 355.8,181.4 356.3,178.8 358.5,176.1 361.0,173.8 359.9,170.4 357.8,168.6Z"/><path d="M376.6,173.7 378.6,174.7 380.8,173.5 383.7,173.5 386.6,173.5 389.5,173.4 392.4,173.3 392.8,176.6 393.3,179.9 393.7,183.1 394.1,186.4 394.5,189.6 394.8,192.8 393.2,194.4 391.6,196.0 389.5,199.3 388.3,200.0 385.5,202.0 382.4,202.4 380.6,202.3 378.7,202.2 376.2,203.4 376.7,199.7 377.4,197.6 378.2,195.5 378.3,191.8 378.0,188.2 377.6,184.6 377.3,181.0 377.0,177.4 376.6,173.7Z"/><path d="M392.4,173.3 395.1,173.0 397.7,172.7 400.3,172.4 403.0,173.1 404.9,173.7 406.7,174.2 408.7,173.6 410.6,172.9 412.4,171.3 414.2,169.7 416.7,168.2 417.3,171.6 417.9,174.9 418.6,178.3 418.4,180.4 418.2,182.5 417.8,186.0 416.4,187.4 415.0,188.8 413.1,191.7 411.1,195.0 409.1,198.5 407.6,196.7 406.2,194.8 404.1,195.2 402.0,195.6 400.0,194.7 398.1,193.7 396.5,193.3 394.8,192.8 394.5,189.6 394.1,186.4 393.7,183.1 393.3,179.9 392.8,176.6 392.4,173.3Z"/><path d="M380.8,173.5 380.8,170.9 380.7,168.2 380.7,165.5 381.0,161.8 381.2,158.0 380.7,154.3 380.3,150.6 381.2,148.2 382.1,145.9 383.7,144.5 385.4,143.1 387.1,141.9 388.7,140.7 390.3,141.3 391.9,141.8 394.5,143.4 397.1,145.0 396.9,147.8 396.7,150.6 396.6,153.4 394.8,155.7 397.3,154.1 399.9,152.4 401.5,155.2 403.2,158.0 403.6,160.3 404.1,162.7 403.4,166.0 402.7,169.3 400.3,172.4 397.7,172.7 395.1,173.0 392.4,173.3 389.5,173.4 386.6,173.5 383.7,173.5 380.8,173.5Z"/><path d="M357.2,137.1 359.8,135.7 361.7,134.9 363.6,134.0 365.4,132.8 367.3,131.6 368.8,130.8 370.4,130.0 368.7,133.1 370.3,135.8 372.0,135.9 373.6,136.0 375.8,136.1 378.0,136.2 380.7,134.9 383.3,133.5 384.9,133.6 386.5,133.7 389.0,135.8 391.9,137.1 393.1,138.2 390.4,138.8 387.7,139.4 386.1,139.4 384.4,139.3 382.3,140.0 380.1,140.8 378.3,141.5 376.5,142.1 374.7,142.2 374.2,145.2 373.6,148.1 372.0,146.2 370.3,142.8 368.6,142.1 366.9,141.3 364.6,140.6 361.8,139.8 358.9,138.9 357.2,137.1Z"/><path d="M376.2,203.4 378.7,202.2 380.6,202.3 382.4,202.4 385.5,202.0 388.3,200.0 389.5,199.3 391.6,196.0 393.2,194.4 394.8,192.8 396.5,193.3 398.1,193.7 400.0,194.7 402.0,195.6 404.1,195.2 406.2,194.8 407.6,196.7 409.1,198.5 411.3,201.0 413.5,202.7 411.7,204.7 410.0,206.1 407.1,209.0 405.4,209.9 403.7,210.8 400.7,211.1 397.6,211.3 394.6,211.4 391.6,211.6 388.6,211.7 385.6,211.8 382.6,211.8 379.6,211.9 376.6,211.9 376.7,213.0 373.7,213.1 370.7,213.1 367.6,213.2 368.8,212.4 370.0,209.8 371.8,209.2 373.6,208.6 375.6,206.0 376.2,203.4Z"/><path d="M367.6,213.2 370.7,213.1 373.7,213.1 376.7,213.0 376.6,211.9 379.6,211.9 382.6,211.8 385.6,211.8 388.6,211.7 391.6,211.6 394.6,211.4 397.6,211.3 400.7,211.1 403.7,210.8 406.8,210.5 409.9,210.2 413.0,209.8 416.1,209.5 415.0,211.8 412.9,213.2 410.8,214.5 407.7,216.7 405.9,217.7 404.0,218.6 401.6,221.1 400.3,223.1 397.6,223.3 395.0,223.5 392.3,223.7 389.6,223.9 386.9,224.0 384.2,224.1 381.5,224.2 378.9,224.2 376.2,224.3 373.6,224.3 370.9,224.4 368.3,224.4 365.6,224.4 362.9,224.5 364.2,223.7 365.1,219.9 366.5,216.9 367.6,213.2Z"/><path d="M362.9,224.5 365.6,224.4 368.3,224.4 370.9,224.4 373.6,224.3 376.2,224.3 376.2,225.0 376.0,228.9 375.8,232.7 375.5,236.5 375.3,240.4 375.0,244.3 374.7,248.1 374.9,251.9 375.1,255.7 375.4,259.4 373.2,259.5 371.1,259.6 367.8,260.3 367.1,258.4 366.3,255.4 363.1,255.5 359.9,255.6 356.7,255.7 353.5,255.8 354.0,253.5 354.6,251.2 355.8,248.4 357.0,245.6 357.0,242.9 357.0,240.2 357.3,237.1 357.6,233.9 359.3,231.5 361.0,229.1 362.0,226.8 362.9,224.5Z"/><path d="M376.2,224.3 378.9,224.2 381.5,224.2 384.2,224.1 386.9,224.0 389.6,223.9 392.3,223.7 392.9,226.9 393.6,230.1 394.2,233.3 394.9,236.5 395.5,239.7 396.3,241.8 397.1,243.8 396.9,246.2 396.4,249.3 396.8,251.6 397.2,253.9 394.4,254.1 391.6,254.3 388.8,254.5 385.9,254.6 383.1,254.7 380.3,254.8 380.8,257.0 381.3,259.2 379.7,260.0 379.0,258.0 378.3,256.0 377.3,259.1 375.4,259.4 375.1,255.7 374.9,251.9 374.7,248.1 375.0,244.3 375.3,240.4 375.5,236.5 375.8,232.7 376.0,228.9 376.2,225.0 376.2,224.3Z"/><path d="M400.3,223.1 402.9,222.8 405.5,222.5 408.1,222.2 406.6,224.6 409.9,226.0 411.7,228.0 413.5,229.9 414.9,231.7 416.2,233.5 417.5,235.5 418.8,237.5 420.2,239.4 421.5,241.4 422.8,241.6 421.4,245.3 420.6,248.5 420.0,252.4 416.9,254.7 416.4,255.8 415.3,254.4 412.4,254.7 409.6,255.1 406.7,255.4 403.9,255.6 401.1,255.9 398.2,256.1 397.2,253.9 396.8,251.6 396.4,249.3 396.9,246.2 397.1,243.8 396.3,241.8 395.5,239.7 394.9,236.5 394.2,233.3 393.6,230.1 392.9,226.9 392.3,223.7 395.0,223.5 397.6,223.3 400.3,223.1Z"/><path d="M420.0,252.4 416.9,254.7 416.4,255.8 415.3,254.4 412.4,254.7 409.6,255.1 406.7,255.4 403.9,255.6 401.1,255.9 398.2,256.1 397.2,253.9 394.4,254.1 391.6,254.3 388.8,254.5 385.9,254.6 383.1,254.7 380.3,254.8 380.8,257.0 381.3,259.2 383.8,259.1 386.4,259.1 388.9,259.0 390.9,259.9 392.9,260.7 395.0,263.2 397.7,264.1 400.8,261.5 403.4,260.4 406.0,261.1 407.8,263.2 409.6,265.2 412.5,267.2 413.2,269.4 413.9,271.6 414.0,274.4 414.1,277.1 415.4,279.6 416.7,282.2 420.3,285.6 421.4,287.8 422.5,290.0 426.4,293.3 428.7,294.9 432.1,293.6 433.3,289.5 433.2,286.6 433.2,283.6 432.5,281.0 431.8,278.3 430.5,275.2 429.2,272.2 427.9,269.1 426.0,266.4 424.2,263.7 422.7,260.8 421.2,257.9 420.6,255.1 420.0,252.4Z"/><path d="M408.1,222.2 410.6,221.2 413.1,220.1 415.8,219.9 418.5,219.7 421.1,219.4 421.9,220.4 422.9,221.6 425.4,221.3 427.8,221.0 430.2,220.7 432.8,222.6 435.5,224.5 438.1,226.4 436.5,228.2 434.7,229.9 432.2,233.4 428.8,236.4 425.5,239.0 422.8,241.6 421.5,241.4 420.2,239.4 418.8,237.5 417.5,235.5 416.2,233.5 414.9,231.7 413.5,229.9 411.7,228.0 409.9,226.0 406.6,224.6 408.1,222.2Z"/><path d="M449.9,202.5 447.3,203.3 444.6,204.0 442.0,204.8 439.3,205.4 436.5,206.1 433.8,206.7 430.9,207.2 428.0,207.7 425.1,208.2 422.1,208.7 419.1,209.1 416.1,209.5 415.0,211.8 412.9,213.2 410.8,214.5 407.7,216.7 405.9,217.7 404.0,218.6 401.6,221.1 400.3,223.1 402.9,222.8 405.5,222.5 408.1,222.2 410.6,221.2 413.1,220.1 415.8,219.9 418.5,219.7 421.1,219.4 421.9,220.4 422.9,221.6 425.4,221.3 427.8,221.0 430.2,220.7 432.8,222.6 435.5,224.5 438.1,226.4 439.8,226.1 441.5,225.8 442.5,222.2 443.9,220.7 445.3,219.2 446.9,218.4 448.4,217.6 450.5,213.9 453.0,211.9 452.4,209.9 451.9,207.9 450.9,205.2 449.9,202.5Z"/><path d="M403.7,210.8 405.4,209.9 407.1,209.0 410.0,206.1 411.7,204.7 413.5,202.7 416.7,204.5 418.6,203.8 420.5,203.1 422.1,202.3 423.7,201.5 425.1,198.2 425.7,195.4 426.3,192.6 428.5,193.3 430.3,189.0 432.8,186.4 434.5,186.1 436.2,185.8 436.5,184.3 438.2,184.8 440.3,186.1 441.0,187.1 440.7,190.4 442.3,191.5 444.7,191.6 447.0,191.8 446.5,194.6 447.8,197.1 449.1,199.7 449.9,202.5 447.3,203.3 444.6,204.0 442.0,204.8 439.3,205.4 436.5,206.1 433.8,206.7 430.9,207.2 428.0,207.7 425.1,208.2 422.1,208.7 419.1,209.1 416.1,209.5 413.0,209.8 409.9,210.2 406.8,210.5 403.7,210.8Z"/><path d="M409.1,198.5 411.1,195.0 413.1,191.7 415.0,188.8 416.4,187.4 417.8,186.0 418.2,182.5 418.4,180.4 418.6,178.3 419.2,181.7 419.8,185.2 421.8,184.8 423.8,184.4 425.9,183.9 426.2,185.9 426.5,187.9 428.4,185.9 430.2,183.8 431.8,183.2 433.3,182.6 436.5,184.3 436.2,185.8 434.5,186.1 432.8,186.4 430.3,189.0 428.5,193.3 426.3,192.6 425.7,195.4 425.1,198.2 423.7,201.5 422.1,202.3 420.5,203.1 418.6,203.8 416.7,204.5 413.5,202.7 411.3,201.0 409.1,198.5Z"/><path d="M425.9,183.9 428.5,183.3 431.2,182.7 433.8,181.9 436.5,181.1 439.1,180.3 441.6,179.4 444.2,178.4 446.8,177.4 447.9,180.3 449.0,183.3 450.0,186.4 452.3,186.0 454.5,185.6 455.4,188.5 452.7,189.5 450.1,190.6 449.2,188.5 448.7,185.6 448.2,182.8 446.4,180.5 446.0,184.7 446.2,187.1 446.3,189.6 447.0,191.8 444.7,191.6 442.3,191.5 440.7,190.4 441.0,187.1 440.3,186.1 438.2,184.8 436.5,184.3 433.3,182.6 431.8,183.2 430.2,183.8 428.4,185.9 426.5,187.9 426.2,185.9 425.9,183.9Z"/><path d="M450.1,190.6 452.7,189.5 455.4,188.5 454.2,191.6 452.6,192.5 450.9,193.4 450.1,190.6Z"/><path d="M446.8,177.4 447.6,176.2 448.8,176.0 450.5,178.5 452.4,181.3 453.7,183.8 454.5,185.6 452.3,186.0 450.0,186.4 449.0,183.3 447.9,180.3 446.8,177.4Z"/><path d="M416.7,168.2 418.7,166.7 420.6,165.2 421.0,167.2 423.7,166.6 426.5,165.9 429.2,165.2 432.0,164.5 434.7,163.7 437.4,162.9 440.1,162.1 442.8,161.3 445.4,160.5 447.1,161.1 450.1,163.9 448.6,167.4 448.6,170.0 450.5,171.7 451.9,172.3 450.2,174.4 448.8,176.0 447.6,176.2 446.8,177.4 444.2,178.4 441.6,179.4 439.1,180.3 436.5,181.1 433.8,181.9 431.2,182.7 428.5,183.3 425.9,183.9 423.8,184.4 421.8,184.8 419.8,185.2 419.2,181.7 418.6,178.3 417.9,174.9 417.3,171.6 416.7,168.2Z"/><path d="M450.1,163.9 452.6,164.5 455.0,165.1 454.9,167.3 454.0,169.3 455.4,169.4 455.8,171.5 456.1,173.6 454.9,177.4 453.7,179.4 452.5,181.5 451.8,179.6 448.9,177.9 448.8,176.0 450.2,174.4 451.9,172.3 450.5,171.7 448.6,170.0 448.6,167.4 450.1,163.9Z"/><path d="M451.0,136.2 448.7,136.8 446.3,137.5 444.0,138.1 442.4,140.0 440.7,142.0 439.1,144.0 437.9,145.4 436.6,146.9 437.5,148.8 438.3,150.7 436.4,152.3 434.4,153.9 431.6,154.4 428.8,154.8 426.9,155.5 425.1,156.2 423.2,156.9 424.5,159.4 422.6,162.3 420.6,165.2 421.0,167.2 423.7,166.6 426.5,165.9 429.2,165.2 432.0,164.5 434.7,163.7 437.4,162.9 440.1,162.1 442.8,161.3 445.4,160.5 447.1,161.1 450.1,163.9 452.6,164.5 455.0,165.1 454.9,167.3 455.1,168.0 457.8,167.2 460.3,165.6 462.8,164.1 464.2,163.0 465.7,161.9 463.8,162.6 462.0,163.4 459.7,164.3 457.3,165.2 456.3,164.7 456.6,162.4 456.0,159.8 455.3,157.3 455.3,154.7 455.3,152.1 454.6,149.1 453.9,146.1 452.4,143.5 452.0,141.1 451.5,138.7 451.0,136.2Z"/><path d="M455.3,157.3 457.6,156.7 459.9,156.1 462.2,155.6 464.5,155.1 465.0,157.5 465.4,160.0 463.1,160.9 461.3,161.6 459.5,162.4 457.9,163.5 456.3,164.7 456.6,162.4 456.0,159.8 455.3,157.3Z"/><path d="M464.5,155.1 466.7,154.5 467.9,156.1 469.1,157.7 467.2,158.9 465.4,160.0 465.0,157.5 464.5,155.1Z"/><path d="M459.7,151.1 457.5,151.6 455.3,152.1 455.3,154.7 455.3,157.3 457.6,156.7 459.9,156.1 462.2,155.6 464.5,155.1 466.7,154.5 467.9,156.1 469.1,157.7 471.5,156.8 473.2,156.0 474.9,155.2 474.7,153.4 473.8,152.5 472.9,153.5 471.6,154.9 469.6,151.7 468.5,149.8 468.2,147.9 466.1,149.4 463.9,149.9 461.8,150.5 459.7,151.1Z"/><path d="M451.0,136.2 453.4,135.6 455.7,135.0 458.1,134.4 460.5,133.8 460.5,136.1 459.2,139.5 459.2,141.8 459.2,144.0 459.1,147.8 459.7,151.1 457.5,151.6 455.3,152.1 454.6,149.1 453.9,146.1 452.4,143.5 452.0,141.1 451.5,138.7 451.0,136.2Z"/><path d="M460.5,133.8 462.0,131.2 462.9,134.0 463.8,136.8 464.6,139.3 465.5,141.7 466.9,144.0 468.4,146.3 468.2,147.9 466.1,149.4 463.9,149.9 461.8,150.5 459.7,151.1 459.1,147.8 459.2,144.0 459.2,141.8 459.2,139.5 460.5,136.1 460.5,133.8Z"/><path d="M468.4,146.3 469.0,144.2 469.5,142.1 471.8,140.1 473.7,138.5 475.6,136.9 477.3,135.7 479.0,134.5 481.0,133.2 483.0,131.9 484.2,130.4 485.4,128.8 483.4,126.7 481.3,124.6 479.1,123.6 478.2,120.2 477.4,116.8 476.6,113.4 475.0,112.8 473.4,112.1 472.0,113.1 470.5,114.0 468.4,112.6 467.0,115.9 465.6,119.3 465.3,122.1 465.1,124.9 464.2,128.3 462.0,131.2 462.9,134.0 463.8,136.8 464.6,139.3 465.5,141.7 466.9,144.0 468.4,146.3Z"/><path d="M440.2,185.5 h1.6 v1.6 h-1.6 Z"/></g>
<path d="M171.8,304.8 L166,304.8 L160,305.6 L154,306.2 L148,305.3 L142,303 L136,299.8 L130.5,295.5" stroke="#e8702a" stroke-width="1.0" fill="none" stroke-dasharray="2.2 1.2"/>
</svg>
<div id="tbl"><div class="hd" style="left:-0.5px;width:52.7px;background:#9b1b1f">&gt; 10</div><div class="cd" style="left:10.4px;top:33.3px">DC</div><div class="vl" style="left:27.3px;top:33.3px">26.9</div><div class="cd" style="left:10.4px;top:42.8px">MS</div><div class="vl" style="left:27.3px;top:42.8px">17.9</div><div class="cd" style="left:10.4px;top:52.3px">LA</div><div class="vl" style="left:27.3px;top:52.3px">16.8</div><div class="cd" style="left:10.4px;top:61.7px">AL</div><div class="vl" style="left:27.3px;top:61.7px">13.2</div><div class="cd" style="left:10.4px;top:71.2px">NM</div><div class="vl" style="left:27.3px;top:71.2px">12.3</div><div class="hd" style="left:52.2px;width:222.5px;background:#e8702a">5 - 9.99</div><div class="dv" style="left:51.7px"></div><div class="cd" style="left:64.8px;top:33.3px">MO</div><div class="vl" style="left:81.7px;top:33.3px">10.9</div><div class="cd" style="left:64.8px;top:42.8px">SC</div><div class="vl" style="left:81.7px;top:42.8px">10.7</div><div class="cd" style="left:64.8px;top:52.3px">TN</div><div class="vl" style="left:81.7px;top:52.3px">10.2</div><div class="cd" style="left:64.8px;top:61.7px">AR</div><div class="vl" style="left:81.7px;top:61.7px">10.1</div><div class="cd" style="left:64.8px;top:71.2px">MD</div><div class="vl" style="left:81.7px;top:71.2px">9.9</div><div class="cd" style="left:110.5px;top:33.3px">GA</div><div class="vl" style="left:127.4px;top:33.3px">9.5</div><div class="cd" style="left:110.5px;top:42.8px">IL</div><div class="vl" style="left:127.4px;top:42.8px">9.4</div><div class="cd" style="left:110.5px;top:52.3px">AK</div><div class="vl" style="left:127.4px;top:52.3px">8.4</div><div class="cd" style="left:110.5px;top:61.7px">NC</div><div class="vl" style="left:127.4px;top:61.7px">7.9</div><div class="cd" style="left:110.5px;top:71.2px">IN</div><div class="vl" style="left:127.4px;top:71.2px">7.9</div><div class="cd" style="left:152.0px;top:33.3px">OK</div><div class="vl" style="left:168.9px;top:33.3px">7.8</div><div class="cd" style="left:152.0px;top:42.8px">OH</div><div class="vl" style="left:168.9px;top:42.8px">7.4</div><div class="cd" style="left:152.0px;top:52.3px">KY</div><div class="vl" style="left:168.9px;top:52.3px">7.3</div><div class="cd" style="left:152.0px;top:61.7px">NV</div><div class="vl" style="left:168.9px;top:61.7px">7.2</div><div class="cd" style="left:152.0px;top:71.2px">PA</div><div class="vl" style="left:168.9px;top:71.2px">6.9</div><div class="cd" style="left:193.9px;top:33.3px">AZ</div><div class="vl" style="left:210.8px;top:33.3px">6.9</div><div class="cd" style="left:193.9px;top:42.8px">MI</div><div class="vl" style="left:210.8px;top:42.8px">6.9</div><div class="cd" style="left:193.9px;top:52.3px">DE</div><div class="vl" style="left:210.8px;top:52.3px">6.9</div><div class="cd" style="left:193.9px;top:61.7px">TX</div><div class="vl" style="left:210.8px;top:61.7px">6.8</div><div class="cd" style="left:193.9px;top:71.2px">FL</div><div class="vl" style="left:210.8px;top:71.2px">6.3</div><div class="cd" style="left:235.6px;top:33.3px">VA</div><div class="vl" style="left:252.5px;top:33.3px">6.1</div><div class="cd" style="left:235.6px;top:42.8px">KS</div><div class="vl" style="left:252.5px;top:42.8px">5.7</div><div class="cd" style="left:235.6px;top:52.3px">CO</div><div class="vl" style="left:252.5px;top:52.3px">5.7</div><div class="cd" style="left:235.6px;top:61.7px">WV</div><div class="vl" style="left:252.5px;top:61.7px">5.7</div><div class="cd" style="left:235.6px;top:71.2px">CA</div><div class="vl" style="left:252.5px;top:71.2px">5.3</div><div class="hd" style="left:274.7px;width:175.5px;background:#c39500">2 - 4.99</div><div class="dv" style="left:274.2px"></div><div class="cd" style="left:284.1px;top:33.3px">SD</div><div class="vl" style="left:301.0px;top:33.3px">4.9</div><div class="cd" style="left:284.1px;top:42.8px">WI</div><div class="vl" style="left:301.0px;top:42.8px">4.8</div><div class="cd" style="left:284.1px;top:52.3px">MT</div><div class="vl" style="left:301.0px;top:52.3px">4.5</div><div class="cd" style="left:284.1px;top:61.7px">WA</div><div class="vl" style="left:301.0px;top:61.7px">4.4</div><div class="cd" style="left:284.1px;top:71.2px">NY</div><div class="vl" style="left:301.0px;top:71.2px">3.9</div><div class="cd" style="left:330.0px;top:33.3px">OR</div><div class="vl" style="left:346.9px;top:33.3px">3.9</div><div class="cd" style="left:330.0px;top:42.8px">WY</div><div class="vl" style="left:346.9px;top:42.8px">3.7</div><div class="cd" style="left:330.0px;top:52.3px">CT</div><div class="vl" style="left:346.9px;top:52.3px">3.6</div><div class="cd" style="left:330.0px;top:61.7px">NJ</div><div class="vl" style="left:346.9px;top:61.7px">3.5</div><div class="cd" style="left:330.0px;top:71.2px">MN</div><div class="vl" style="left:346.9px;top:71.2px">3.3</div><div class="cd" style="left:371.8px;top:33.3px">NE</div><div class="vl" style="left:388.7px;top:33.3px">3.2</div><div class="cd" style="left:371.8px;top:42.8px">ND</div><div class="vl" style="left:388.7px;top:42.8px">3.1</div><div class="cd" style="left:371.8px;top:52.3px">IA</div><div class="vl" style="left:388.7px;top:52.3px">2.9</div><div class="cd" style="left:371.8px;top:61.7px">HI</div><div class="vl" style="left:388.7px;top:61.7px">2.8</div><div class="cd" style="left:371.8px;top:71.2px">UT</div><div class="vl" style="left:388.7px;top:71.2px">2.4</div><div class="cd" style="left:413.8px;top:33.3px">MA</div><div class="vl" style="left:430.7px;top:33.3px">2.4</div><div class="cd" style="left:413.8px;top:42.8px">VT</div><div class="vl" style="left:430.7px;top:42.8px">2.4</div><div class="cd" style="left:413.8px;top:52.3px">RI</div><div class="vl" style="left:430.7px;top:52.3px">2.4</div><div class="cd" style="left:413.8px;top:61.7px">ID</div><div class="vl" style="left:430.7px;top:61.7px">2.2</div><div class="cd" style="left:413.8px;top:71.2px">ME</div><div class="vl" style="left:430.7px;top:71.2px">2.1</div><div class="hd" style="left:450.2px;width:44.3px;background:#2e9e78">&lt; 2</div><div class="dv" style="left:449.7px"></div><div class="cd" style="left:458.8px;top:33.3px">NH</div><div class="vl" style="left:475.7px;top:33.3px">1.7</div></div>
<div class="t" id="note">Note: Average homicide rate for each state from 2018 to 2024. Justifiable homicides included in totals.</div>
</div></body></html>
